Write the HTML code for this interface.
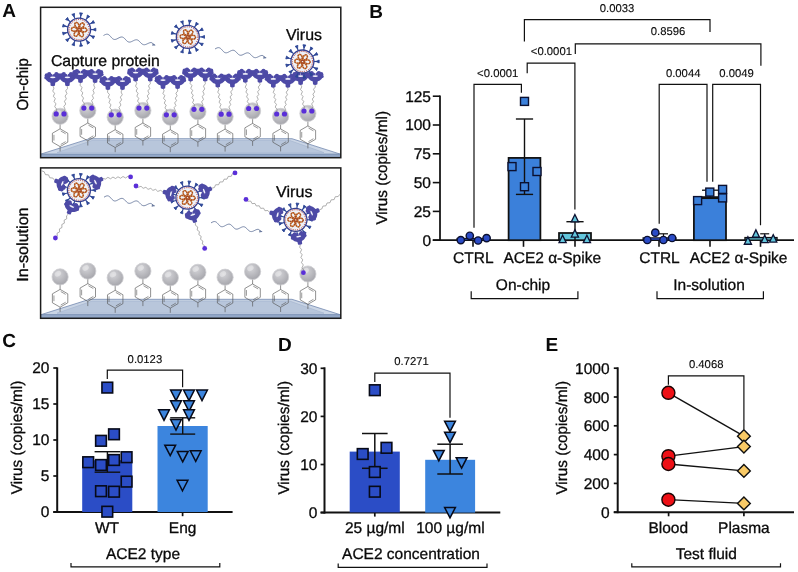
<!DOCTYPE html>
<html><head><meta charset="utf-8"><title>Figure</title>
<style>
html,body{margin:0;padding:0;background:#fff;}
body{width:798px;height:572px;overflow:hidden;}
svg{display:block;font-family:"Liberation Sans", Arial, Helvetica, sans-serif;text-rendering:geometricPrecision;}
</style></head><body>
<svg width="798" height="572" viewBox="0 0 798 572">
<rect width="798" height="572" fill="#ffffff"/>
<text x="2.30" y="16.70" font-size="19" text-anchor="start" fill="#0a0a0a" font-weight="bold">A</text>
<text x="369.30" y="18.00" font-size="19" text-anchor="start" fill="#0a0a0a" font-weight="bold">B</text>
<text x="2.20" y="347.30" font-size="19" text-anchor="start" fill="#0a0a0a" font-weight="bold">C</text>
<text x="278.10" y="351.30" font-size="19" text-anchor="start" fill="#0a0a0a" font-weight="bold">D</text>
<text x="545.60" y="351.30" font-size="19" text-anchor="start" fill="#0a0a0a" font-weight="bold">E</text>
<defs><g id="virus">
<line x1="1.38" y1="-11.42" x2="1.76" y2="-14.59" stroke="#2d4696" stroke-width="1.15"/>
<polygon points="1.64,-13.60 3.44,-16.41 0.56,-16.75" fill="#2d4696" stroke="#2d4696" stroke-width="0.9" stroke-linejoin="round"/>
<line x1="6.52" y1="-9.47" x2="8.34" y2="-12.10" stroke="#2d4696" stroke-width="1.15"/>
<polygon points="7.77,-11.28 10.67,-12.93 8.28,-14.57" fill="#2d4696" stroke="#2d4696" stroke-width="0.9" stroke-linejoin="round"/>
<line x1="10.18" y1="-5.35" x2="13.01" y2="-6.84" stroke="#2d4696" stroke-width="1.15"/>
<polygon points="12.13,-6.38 15.46,-6.49 14.11,-9.06" fill="#2d4696" stroke="#2d4696" stroke-width="0.9" stroke-linejoin="round"/>
<line x1="11.50" y1="-0.01" x2="14.70" y2="-0.01" stroke="#2d4696" stroke-width="1.15"/>
<polygon points="13.70,-0.01 16.70,1.44 16.70,-1.46" fill="#2d4696" stroke="#2d4696" stroke-width="0.9" stroke-linejoin="round"/>
<line x1="10.19" y1="5.34" x2="13.02" y2="6.82" stroke="#2d4696" stroke-width="1.15"/>
<polygon points="12.14,6.36 14.12,9.03 15.47,6.46" fill="#2d4696" stroke="#2d4696" stroke-width="0.9" stroke-linejoin="round"/>
<line x1="6.54" y1="9.46" x2="8.36" y2="12.09" stroke="#2d4696" stroke-width="1.15"/>
<polygon points="7.79,11.27 8.31,14.56 10.69,12.91" fill="#2d4696" stroke="#2d4696" stroke-width="0.9" stroke-linejoin="round"/>
<line x1="1.40" y1="11.41" x2="1.78" y2="14.59" stroke="#2d4696" stroke-width="1.15"/>
<polygon points="1.66,13.60 0.59,16.75 3.47,16.40" fill="#2d4696" stroke="#2d4696" stroke-width="0.9" stroke-linejoin="round"/>
<line x1="-4.07" y1="10.76" x2="-5.20" y2="13.75" stroke="#2d4696" stroke-width="1.15"/>
<polygon points="-4.85,12.81 -7.27,15.11 -4.55,16.13" fill="#2d4696" stroke="#2d4696" stroke-width="0.9" stroke-linejoin="round"/>
<line x1="-8.60" y1="7.63" x2="-11.00" y2="9.76" stroke="#2d4696" stroke-width="1.15"/>
<polygon points="-10.25,9.09 -13.45,10.00 -11.53,12.17" fill="#2d4696" stroke="#2d4696" stroke-width="0.9" stroke-linejoin="round"/>
<line x1="-11.16" y1="2.76" x2="-14.27" y2="3.53" stroke="#2d4696" stroke-width="1.15"/>
<polygon points="-13.30,3.29 -16.56,2.60 -15.86,5.42" fill="#2d4696" stroke="#2d4696" stroke-width="0.9" stroke-linejoin="round"/>
<line x1="-11.17" y1="-2.74" x2="-14.28" y2="-3.51" stroke="#2d4696" stroke-width="1.15"/>
<polygon points="-13.30,-3.27 -15.87,-5.39 -16.56,-2.57" fill="#2d4696" stroke="#2d4696" stroke-width="0.9" stroke-linejoin="round"/>
<line x1="-8.61" y1="-7.62" x2="-11.01" y2="-9.74" stroke="#2d4696" stroke-width="1.15"/>
<polygon points="-10.26,-9.08 -11.55,-12.15 -13.47,-9.98" fill="#2d4696" stroke="#2d4696" stroke-width="0.9" stroke-linejoin="round"/>
<line x1="-4.09" y1="-10.75" x2="-5.22" y2="-13.74" stroke="#2d4696" stroke-width="1.15"/>
<polygon points="-4.87,-12.81 -4.58,-16.13 -7.29,-15.09" fill="#2d4696" stroke="#2d4696" stroke-width="0.9" stroke-linejoin="round"/>
<circle r="11.50" fill="#edf1f9" stroke="#363f8e" stroke-width="1.3"/>
<circle r="10.10" fill="none" stroke="#b6362c" stroke-width="1" stroke-dasharray="1 1.2"/>
<path d="M7.4 1.2 L7.7 0.7 L7.7 0.1 L7.4 -0.5 L7.0 -1.0 L6.3 -1.4 L5.5 -1.6 L4.6 -1.6 L3.7 -1.3 L2.8 -0.9 L2.0 -0.3 L1.2 0.5 L0.7 1.4 L0.3 2.4 L0.2 3.4 L0.2 4.4 L0.5 5.3 L0.9 6.0 L1.4 6.6 L2.0 6.9 L2.6 7.1 L3.2 7.0 L3.8 6.7 L4.1 6.2 L4.3 5.5 L4.3 4.8 L4.1 4.0 L3.7 3.2 L3.0 2.5 L2.2 2.0 L1.2 1.6 L0.2 1.3 L-0.9 1.3 L-1.9 1.5 L-2.9 1.8 L-3.7 2.4 L-4.3 3.0 L-4.8 3.8 L-5.0 4.5 L-5.0 5.2 L-4.8 5.8 L-4.4 6.3 L-3.9 6.6 L-3.3 6.7 L-2.6 6.5 L-2.0 6.1 L-1.4 5.6 L-1.0 4.8 L-0.7 3.9 L-0.6 2.9 L-0.7 1.9 L-1.0 0.8 L-1.6 -0.1 L-2.2 -0.9 L-3.0 -1.6 L-3.9 -2.0 L-4.8 -2.2 L-5.6 -2.3 L-6.4 -2.1 L-7.0 -1.7 L-7.4 -1.2 L-7.7 -0.7 L-7.7 -0.1 L-7.4 0.5 L-7.0 1.0 L-6.3 1.4 L-5.5 1.6 L-4.6 1.6 L-3.7 1.3 L-2.8 0.9 L-2.0 0.3 L-1.2 -0.5 L-0.7 -1.4 L-0.3 -2.4 L-0.2 -3.4 L-0.2 -4.4 L-0.5 -5.3 L-0.9 -6.0 L-1.4 -6.6 L-2.0 -6.9 L-2.6 -7.1 L-3.2 -7.0 L-3.8 -6.7 L-4.1 -6.2 L-4.3 -5.5 L-4.3 -4.8 L-4.1 -4.0 L-3.7 -3.2 L-3.0 -2.5 L-2.2 -2.0 L-1.2 -1.6 L-0.2 -1.3 L0.9 -1.3 L1.9 -1.5 L2.9 -1.8 L3.7 -2.4 L4.3 -3.0 L4.8 -3.8 L5.0 -4.5 L5.0 -5.2 L4.8 -5.8 L4.4 -6.3 L3.9 -6.6 L3.3 -6.7 L2.6 -6.5 L2.0 -6.1 L1.4 -5.6 L1.0 -4.8 L0.7 -3.9 L0.6 -2.9 L0.7 -1.9 L1.0 -0.8 L1.6 0.1 L2.2 0.9 L3.0 1.6 L3.9 2.0 L4.8 2.2 L5.6 2.3 L6.4 2.1 L7.0 1.7 L7.4 1.2Z" fill="none" stroke="#d68a3c" stroke-width="1.35" stroke-linejoin="round"/>
<path d="M7.4 1.2 L7.7 0.7 L7.7 0.1 L7.4 -0.5 L7.0 -1.0 L6.3 -1.4 L5.5 -1.6 L4.6 -1.6 L3.7 -1.3 L2.8 -0.9 L2.0 -0.3 L1.2 0.5 L0.7 1.4 L0.3 2.4 L0.2 3.4 L0.2 4.4 L0.5 5.3 L0.9 6.0 L1.4 6.6 L2.0 6.9 L2.6 7.1 L3.2 7.0 L3.8 6.7 L4.1 6.2 L4.3 5.5 L4.3 4.8 L4.1 4.0 L3.7 3.2 L3.0 2.5 L2.2 2.0 L1.2 1.6 L0.2 1.3 L-0.9 1.3 L-1.9 1.5 L-2.9 1.8 L-3.7 2.4 L-4.3 3.0 L-4.8 3.8 L-5.0 4.5 L-5.0 5.2 L-4.8 5.8 L-4.4 6.3 L-3.9 6.6 L-3.3 6.7 L-2.6 6.5 L-2.0 6.1 L-1.4 5.6 L-1.0 4.8 L-0.7 3.9 L-0.6 2.9 L-0.7 1.9 L-1.0 0.8 L-1.6 -0.1 L-2.2 -0.9 L-3.0 -1.6 L-3.9 -2.0 L-4.8 -2.2 L-5.6 -2.3 L-6.4 -2.1 L-7.0 -1.7 L-7.4 -1.2 L-7.7 -0.7 L-7.7 -0.1 L-7.4 0.5 L-7.0 1.0 L-6.3 1.4 L-5.5 1.6 L-4.6 1.6 L-3.7 1.3 L-2.8 0.9 L-2.0 0.3 L-1.2 -0.5 L-0.7 -1.4 L-0.3 -2.4 L-0.2 -3.4 L-0.2 -4.4 L-0.5 -5.3 L-0.9 -6.0 L-1.4 -6.6 L-2.0 -6.9 L-2.6 -7.1 L-3.2 -7.0 L-3.8 -6.7 L-4.1 -6.2 L-4.3 -5.5 L-4.3 -4.8 L-4.1 -4.0 L-3.7 -3.2 L-3.0 -2.5 L-2.2 -2.0 L-1.2 -1.6 L-0.2 -1.3 L0.9 -1.3 L1.9 -1.5 L2.9 -1.8 L3.7 -2.4 L4.3 -3.0 L4.8 -3.8 L5.0 -4.5 L5.0 -5.2 L4.8 -5.8 L4.4 -6.3 L3.9 -6.6 L3.3 -6.7 L2.6 -6.5 L2.0 -6.1 L1.4 -5.6 L1.0 -4.8 L0.7 -3.9 L0.6 -2.9 L0.7 -1.9 L1.0 -0.8 L1.6 0.1 L2.2 0.9 L3.0 1.6 L3.9 2.0 L4.8 2.2 L5.6 2.3 L6.4 2.1 L7.0 1.7 L7.4 1.2Z" fill="none" stroke="#a4482a" stroke-width="1.35" stroke-linejoin="round" stroke-dasharray="1.3 1.1"/>
</g>
<radialGradient id="beadg" cx="0.4" cy="0.32" r="0.75">
<stop offset="0" stop-color="#d4d4d8"/><stop offset="0.55" stop-color="#b9b9be"/><stop offset="1" stop-color="#a2a2a8"/>
</radialGradient>
</defs>
<g>
<rect x="40.60" y="7.30" width="300.20" height="150.40" fill="#ffffff" stroke="none" stroke-width="0"/>
<polygon points="89.50,138.70 292.00,138.70 340.50,154.20 40.60,154.20" fill="#cad5e5" stroke="#7389b0" stroke-width="0.8" stroke-linejoin="round"/>
<polygon points="92.00,140.50 289.80,140.50 324.00,152.60 57.00,152.60" fill="#b8c6db" stroke="#a3b4cf" stroke-width="0.6"/>
<rect x="40.60" y="154.20" width="300.00" height="3.30" fill="#93a8c8" stroke="#6f86ae" stroke-width="0.6"/>
<line x1="60.10" y1="123.30" x2="60.10" y2="128.80" stroke="#555" stroke-width="0.65"/>
<line x1="60.10" y1="146.60" x2="60.10" y2="151.30" stroke="#555" stroke-width="0.65"/>
<polygon points="60.10,128.80 52.39,133.25 52.39,142.15 60.10,146.60 67.81,142.15 67.81,133.25" fill="none" stroke="#555" stroke-width="0.65"/>
<line x1="53.93" y1="134.85" x2="53.93" y2="140.55" stroke="#555" stroke-width="0.6"/>
<line x1="60.72" y1="144.46" x2="65.65" y2="141.62" stroke="#555" stroke-width="0.6"/>
<line x1="65.65" y1="133.78" x2="60.72" y2="130.94" stroke="#555" stroke-width="0.6"/>
<circle cx="60.10" cy="116.30" r="8.1" fill="url(#beadg)" stroke="#cfcfd3" stroke-width="0.8"/>
<ellipse cx="57.90" cy="113.10" rx="3.4" ry="2.6" fill="#ffffff" opacity="0.35" transform="rotate(-30 57.90 113.10)"/>
<polyline points="56.20,111.80 56.65,109.09 54.73,106.68 55.97,103.87 54.05,101.46 55.29,98.65 53.37,96.24 54.61,93.43 52.69,91.02 53.93,88.21 52.80,85.70" fill="none" stroke="#858585" stroke-width="0.65" stroke-linejoin="round"/>
<polyline points="64.00,111.80 65.10,109.28 63.83,106.49 65.72,104.06 64.45,101.27 66.34,98.84 65.07,96.05 66.96,93.62 65.69,90.83 67.58,88.40 67.10,85.70" fill="none" stroke="#858585" stroke-width="0.65" stroke-linejoin="round"/>
<circle cx="56.20" cy="113.90" r="2.60" fill="#5a2fd8" stroke="none" stroke-width="0"/>
<circle cx="64.00" cy="113.90" r="2.60" fill="#5a2fd8" stroke="none" stroke-width="0"/>
<line x1="87.80" y1="117.50" x2="87.80" y2="123.00" stroke="#555" stroke-width="0.65"/>
<line x1="87.80" y1="140.80" x2="87.80" y2="145.50" stroke="#555" stroke-width="0.65"/>
<polygon points="87.80,123.00 80.09,127.45 80.09,136.35 87.80,140.80 95.51,136.35 95.51,127.45" fill="none" stroke="#555" stroke-width="0.65"/>
<line x1="81.63" y1="129.05" x2="81.63" y2="134.75" stroke="#555" stroke-width="0.6"/>
<line x1="88.42" y1="138.66" x2="93.35" y2="135.82" stroke="#555" stroke-width="0.6"/>
<line x1="93.35" y1="127.98" x2="88.42" y2="125.14" stroke="#555" stroke-width="0.6"/>
<circle cx="87.80" cy="110.50" r="8.1" fill="url(#beadg)" stroke="#cfcfd3" stroke-width="0.8"/>
<ellipse cx="85.60" cy="107.30" rx="3.4" ry="2.6" fill="#ffffff" opacity="0.35" transform="rotate(-30 85.60 107.30)"/>
<polyline points="83.90,106.00 84.31,103.27 82.35,100.89 83.56,98.05 81.60,95.67 82.80,92.83 80.84,90.45 82.05,87.61 80.09,85.23 80.50,82.50" fill="none" stroke="#858585" stroke-width="0.65" stroke-linejoin="round"/>
<polyline points="91.70,106.00 92.84,103.49 91.60,100.67 93.53,98.27 92.28,95.45 94.22,93.05 92.97,90.23 94.90,87.83 93.66,85.01 94.80,82.50" fill="none" stroke="#858585" stroke-width="0.65" stroke-linejoin="round"/>
<circle cx="83.90" cy="108.10" r="2.60" fill="#5a2fd8" stroke="none" stroke-width="0"/>
<circle cx="91.70" cy="108.10" r="2.60" fill="#5a2fd8" stroke="none" stroke-width="0"/>
<line x1="115.20" y1="124.20" x2="115.20" y2="129.70" stroke="#555" stroke-width="0.65"/>
<line x1="115.20" y1="147.50" x2="115.20" y2="152.20" stroke="#555" stroke-width="0.65"/>
<polygon points="115.20,129.70 107.49,134.15 107.49,143.05 115.20,147.50 122.91,143.05 122.91,134.15" fill="none" stroke="#555" stroke-width="0.65"/>
<line x1="109.03" y1="135.75" x2="109.03" y2="141.45" stroke="#555" stroke-width="0.6"/>
<line x1="115.82" y1="145.36" x2="120.75" y2="142.52" stroke="#555" stroke-width="0.6"/>
<line x1="120.75" y1="134.68" x2="115.82" y2="131.84" stroke="#555" stroke-width="0.6"/>
<circle cx="115.20" cy="117.20" r="8.1" fill="url(#beadg)" stroke="#cfcfd3" stroke-width="0.8"/>
<ellipse cx="113.00" cy="114.00" rx="3.4" ry="2.6" fill="#ffffff" opacity="0.35" transform="rotate(-30 113.00 114.00)"/>
<polyline points="111.30,112.70 111.71,110.01 109.75,107.66 110.96,104.85 109.00,102.50 110.20,99.70 108.24,97.35 109.45,94.54 107.49,92.19 107.90,89.50" fill="none" stroke="#858585" stroke-width="0.65" stroke-linejoin="round"/>
<polyline points="119.10,112.70 120.24,110.23 119.00,107.44 120.93,105.07 119.68,102.28 121.62,99.92 120.37,97.13 122.30,94.76 121.06,91.97 122.20,89.50" fill="none" stroke="#858585" stroke-width="0.65" stroke-linejoin="round"/>
<circle cx="111.30" cy="114.80" r="2.60" fill="#5a2fd8" stroke="none" stroke-width="0"/>
<circle cx="119.10" cy="114.80" r="2.60" fill="#5a2fd8" stroke="none" stroke-width="0"/>
<line x1="142.90" y1="117.50" x2="142.90" y2="123.00" stroke="#555" stroke-width="0.65"/>
<line x1="142.90" y1="140.80" x2="142.90" y2="145.50" stroke="#555" stroke-width="0.65"/>
<polygon points="142.90,123.00 135.19,127.45 135.19,136.35 142.90,140.80 150.61,136.35 150.61,127.45" fill="none" stroke="#555" stroke-width="0.65"/>
<line x1="136.73" y1="129.05" x2="136.73" y2="134.75" stroke="#555" stroke-width="0.6"/>
<line x1="143.52" y1="138.66" x2="148.45" y2="135.82" stroke="#555" stroke-width="0.6"/>
<line x1="148.45" y1="127.98" x2="143.52" y2="125.14" stroke="#555" stroke-width="0.6"/>
<circle cx="142.90" cy="110.50" r="8.1" fill="url(#beadg)" stroke="#cfcfd3" stroke-width="0.8"/>
<ellipse cx="140.70" cy="107.30" rx="3.4" ry="2.6" fill="#ffffff" opacity="0.35" transform="rotate(-30 140.70 107.30)"/>
<polyline points="139.00,106.00 139.45,103.39 137.53,101.11 138.77,98.39 136.85,96.11 138.09,93.39 136.17,91.11 137.41,88.39 135.49,86.11 136.73,83.39 135.60,81.00" fill="none" stroke="#858585" stroke-width="0.65" stroke-linejoin="round"/>
<polyline points="146.80,106.00 147.90,103.60 146.63,100.90 148.52,98.60 147.25,95.90 149.14,93.60 147.87,90.90 149.76,88.60 148.49,85.90 150.38,83.60 149.90,81.00" fill="none" stroke="#858585" stroke-width="0.65" stroke-linejoin="round"/>
<circle cx="139.00" cy="108.10" r="2.60" fill="#5a2fd8" stroke="none" stroke-width="0"/>
<circle cx="146.80" cy="108.10" r="2.60" fill="#5a2fd8" stroke="none" stroke-width="0"/>
<line x1="170.30" y1="124.20" x2="170.30" y2="129.70" stroke="#555" stroke-width="0.65"/>
<line x1="170.30" y1="147.50" x2="170.30" y2="152.20" stroke="#555" stroke-width="0.65"/>
<polygon points="170.30,129.70 162.59,134.15 162.59,143.05 170.30,147.50 178.01,143.05 178.01,134.15" fill="none" stroke="#555" stroke-width="0.65"/>
<line x1="164.13" y1="135.75" x2="164.13" y2="141.45" stroke="#555" stroke-width="0.6"/>
<line x1="170.92" y1="145.36" x2="175.85" y2="142.52" stroke="#555" stroke-width="0.6"/>
<line x1="175.85" y1="134.68" x2="170.92" y2="131.84" stroke="#555" stroke-width="0.6"/>
<circle cx="170.30" cy="117.20" r="8.1" fill="url(#beadg)" stroke="#cfcfd3" stroke-width="0.8"/>
<ellipse cx="168.10" cy="114.00" rx="3.4" ry="2.6" fill="#ffffff" opacity="0.35" transform="rotate(-30 168.10 114.00)"/>
<polyline points="166.40,112.70 166.85,110.17 164.93,107.97 166.17,105.33 164.25,103.13 165.49,100.49 163.57,98.29 164.81,95.65 162.89,93.45 164.13,90.81 163.00,88.50" fill="none" stroke="#858585" stroke-width="0.65" stroke-linejoin="round"/>
<polyline points="174.20,112.70 175.30,110.38 174.03,107.76 175.92,105.54 174.65,102.92 176.54,100.70 175.27,98.08 177.16,95.86 175.89,93.24 177.78,91.02 177.30,88.50" fill="none" stroke="#858585" stroke-width="0.65" stroke-linejoin="round"/>
<circle cx="166.40" cy="114.80" r="2.60" fill="#5a2fd8" stroke="none" stroke-width="0"/>
<circle cx="174.20" cy="114.80" r="2.60" fill="#5a2fd8" stroke="none" stroke-width="0"/>
<line x1="197.90" y1="118.70" x2="197.90" y2="124.20" stroke="#555" stroke-width="0.65"/>
<line x1="197.90" y1="142.00" x2="197.90" y2="146.70" stroke="#555" stroke-width="0.65"/>
<polygon points="197.90,124.20 190.19,128.65 190.19,137.55 197.90,142.00 205.61,137.55 205.61,128.65" fill="none" stroke="#555" stroke-width="0.65"/>
<line x1="191.73" y1="130.25" x2="191.73" y2="135.95" stroke="#555" stroke-width="0.6"/>
<line x1="198.52" y1="139.86" x2="203.45" y2="137.02" stroke="#555" stroke-width="0.6"/>
<line x1="203.45" y1="129.18" x2="198.52" y2="126.34" stroke="#555" stroke-width="0.6"/>
<circle cx="197.90" cy="111.70" r="8.1" fill="url(#beadg)" stroke="#cfcfd3" stroke-width="0.8"/>
<ellipse cx="195.70" cy="108.50" rx="3.4" ry="2.6" fill="#ffffff" opacity="0.35" transform="rotate(-30 195.70 108.50)"/>
<polyline points="194.00,107.20 194.48,104.72 192.59,102.54 193.87,99.95 191.97,97.78 193.25,95.19 191.35,93.01 192.63,90.42 190.73,88.25 192.01,85.66 190.12,83.48 190.60,81.00" fill="none" stroke="#858585" stroke-width="0.65" stroke-linejoin="round"/>
<polyline points="201.80,107.20 202.90,104.67 201.63,101.87 203.52,99.43 202.25,96.63 204.14,94.19 202.87,91.39 204.76,88.95 203.49,86.15 205.38,83.71 204.90,81.00" fill="none" stroke="#858585" stroke-width="0.65" stroke-linejoin="round"/>
<circle cx="194.00" cy="109.30" r="2.60" fill="#5a2fd8" stroke="none" stroke-width="0"/>
<circle cx="201.80" cy="109.30" r="2.60" fill="#5a2fd8" stroke="none" stroke-width="0"/>
<line x1="225.10" y1="123.60" x2="225.10" y2="129.10" stroke="#555" stroke-width="0.65"/>
<line x1="225.10" y1="146.90" x2="225.10" y2="151.60" stroke="#555" stroke-width="0.65"/>
<polygon points="225.10,129.10 217.39,133.55 217.39,142.45 225.10,146.90 232.81,142.45 232.81,133.55" fill="none" stroke="#555" stroke-width="0.65"/>
<line x1="218.93" y1="135.15" x2="218.93" y2="140.85" stroke="#555" stroke-width="0.6"/>
<line x1="225.72" y1="144.76" x2="230.65" y2="141.92" stroke="#555" stroke-width="0.6"/>
<line x1="230.65" y1="134.08" x2="225.72" y2="131.24" stroke="#555" stroke-width="0.6"/>
<circle cx="225.10" cy="116.60" r="8.1" fill="url(#beadg)" stroke="#cfcfd3" stroke-width="0.8"/>
<ellipse cx="222.90" cy="113.40" rx="3.4" ry="2.6" fill="#ffffff" opacity="0.35" transform="rotate(-30 222.90 113.40)"/>
<polyline points="221.20,112.10 221.65,109.48 219.73,107.19 220.97,104.46 219.05,102.17 220.29,99.44 218.37,97.15 219.61,94.42 217.69,92.13 218.93,89.40 217.80,87.00" fill="none" stroke="#858585" stroke-width="0.65" stroke-linejoin="round"/>
<polyline points="229.00,112.10 230.10,109.69 228.83,106.98 230.72,104.67 229.45,101.96 231.34,99.65 230.07,96.94 231.96,94.63 230.69,91.92 232.58,89.61 232.10,87.00" fill="none" stroke="#858585" stroke-width="0.65" stroke-linejoin="round"/>
<circle cx="221.20" cy="114.20" r="2.60" fill="#5a2fd8" stroke="none" stroke-width="0"/>
<circle cx="229.00" cy="114.20" r="2.60" fill="#5a2fd8" stroke="none" stroke-width="0"/>
<line x1="252.60" y1="117.90" x2="252.60" y2="123.40" stroke="#555" stroke-width="0.65"/>
<line x1="252.60" y1="141.20" x2="252.60" y2="145.90" stroke="#555" stroke-width="0.65"/>
<polygon points="252.60,123.40 244.89,127.85 244.89,136.75 252.60,141.20 260.31,136.75 260.31,127.85" fill="none" stroke="#555" stroke-width="0.65"/>
<line x1="246.43" y1="129.45" x2="246.43" y2="135.15" stroke="#555" stroke-width="0.6"/>
<line x1="253.22" y1="139.06" x2="258.15" y2="136.22" stroke="#555" stroke-width="0.6"/>
<line x1="258.15" y1="128.38" x2="253.22" y2="125.54" stroke="#555" stroke-width="0.6"/>
<circle cx="252.60" cy="110.90" r="8.1" fill="url(#beadg)" stroke="#cfcfd3" stroke-width="0.8"/>
<ellipse cx="250.40" cy="107.70" rx="3.4" ry="2.6" fill="#ffffff" opacity="0.35" transform="rotate(-30 250.40 107.70)"/>
<polyline points="248.70,106.40 249.15,103.88 247.23,101.69 248.47,99.06 246.55,96.87 247.79,94.24 245.87,92.05 247.11,89.42 245.19,87.23 246.43,84.60 245.30,82.30" fill="none" stroke="#858585" stroke-width="0.65" stroke-linejoin="round"/>
<polyline points="256.50,106.40 257.60,104.09 256.33,101.48 258.22,99.27 256.95,96.66 258.84,94.45 257.57,91.84 259.46,89.63 258.19,87.02 260.08,84.81 259.60,82.30" fill="none" stroke="#858585" stroke-width="0.65" stroke-linejoin="round"/>
<circle cx="248.70" cy="108.50" r="2.60" fill="#5a2fd8" stroke="none" stroke-width="0"/>
<circle cx="256.50" cy="108.50" r="2.60" fill="#5a2fd8" stroke="none" stroke-width="0"/>
<line x1="280.60" y1="123.40" x2="280.60" y2="128.90" stroke="#555" stroke-width="0.65"/>
<line x1="280.60" y1="146.70" x2="280.60" y2="151.40" stroke="#555" stroke-width="0.65"/>
<polygon points="280.60,128.90 272.89,133.35 272.89,142.25 280.60,146.70 288.31,142.25 288.31,133.35" fill="none" stroke="#555" stroke-width="0.65"/>
<line x1="274.43" y1="134.95" x2="274.43" y2="140.65" stroke="#555" stroke-width="0.6"/>
<line x1="281.22" y1="144.56" x2="286.15" y2="141.72" stroke="#555" stroke-width="0.6"/>
<line x1="286.15" y1="133.88" x2="281.22" y2="131.04" stroke="#555" stroke-width="0.6"/>
<circle cx="280.60" cy="116.40" r="8.1" fill="url(#beadg)" stroke="#cfcfd3" stroke-width="0.8"/>
<ellipse cx="278.40" cy="113.20" rx="3.4" ry="2.6" fill="#ffffff" opacity="0.35" transform="rotate(-30 278.40 113.20)"/>
<polyline points="276.70,111.90 277.15,109.33 275.23,107.09 276.47,104.41 274.55,102.17 275.79,99.49 273.87,97.25 275.11,94.57 273.19,92.33 274.43,89.65 273.30,87.30" fill="none" stroke="#858585" stroke-width="0.65" stroke-linejoin="round"/>
<polyline points="284.50,111.90 285.60,109.54 284.33,106.88 286.22,104.62 284.95,101.96 286.84,99.70 285.57,97.04 287.46,94.78 286.19,92.12 288.08,89.86 287.60,87.30" fill="none" stroke="#858585" stroke-width="0.65" stroke-linejoin="round"/>
<circle cx="276.70" cy="114.00" r="2.60" fill="#5a2fd8" stroke="none" stroke-width="0"/>
<circle cx="284.50" cy="114.00" r="2.60" fill="#5a2fd8" stroke="none" stroke-width="0"/>
<line x1="307.90" y1="120.40" x2="307.90" y2="125.90" stroke="#555" stroke-width="0.65"/>
<line x1="307.90" y1="143.70" x2="307.90" y2="148.40" stroke="#555" stroke-width="0.65"/>
<polygon points="307.90,125.90 300.19,130.35 300.19,139.25 307.90,143.70 315.61,139.25 315.61,130.35" fill="none" stroke="#555" stroke-width="0.65"/>
<line x1="301.73" y1="131.95" x2="301.73" y2="137.65" stroke="#555" stroke-width="0.6"/>
<line x1="308.52" y1="141.56" x2="313.45" y2="138.72" stroke="#555" stroke-width="0.6"/>
<line x1="313.45" y1="130.88" x2="308.52" y2="128.04" stroke="#555" stroke-width="0.6"/>
<circle cx="307.90" cy="113.40" r="8.1" fill="url(#beadg)" stroke="#cfcfd3" stroke-width="0.8"/>
<ellipse cx="305.70" cy="110.20" rx="3.4" ry="2.6" fill="#ffffff" opacity="0.35" transform="rotate(-30 305.70 110.20)"/>
<polyline points="304.00,108.90 304.45,106.35 302.53,104.13 303.77,101.47 301.85,99.25 303.09,96.59 301.17,94.37 302.41,91.71 300.49,89.49 301.73,86.83 300.60,84.50" fill="none" stroke="#858585" stroke-width="0.65" stroke-linejoin="round"/>
<polyline points="311.80,108.90 312.90,106.56 311.63,103.92 313.52,101.68 312.25,99.04 314.14,96.80 312.87,94.16 314.76,91.92 313.49,89.28 315.38,87.04 314.90,84.50" fill="none" stroke="#858585" stroke-width="0.65" stroke-linejoin="round"/>
<circle cx="304.00" cy="111.00" r="2.60" fill="#5a2fd8" stroke="none" stroke-width="0"/>
<circle cx="311.80" cy="111.00" r="2.60" fill="#5a2fd8" stroke="none" stroke-width="0"/>
<g transform="translate(52.80 79.20) rotate(0.0) scale(1.0)" fill="#4d4aa6">
<path d="M -8 -3.2 C -8.2 0.6 -4.6 2.8 -2.4 3.5 L -2.2 6.3 C -1.2 7.1 1.2 7.1 2.2 6.3 L 2.4 3.5 C 4.6 2.8 8.2 0.6 8 -3.2 Z"/>
<circle cx="-5.9" cy="-3.6" r="2.3"/><circle cx="5.9" cy="-3.6" r="2.3"/>
<circle cx="-3.6" cy="-5.0" r="2.1"/><circle cx="3.6" cy="-5.0" r="2.1"/>
<circle cx="-1.6" cy="-4.0" r="1.5"/><circle cx="1.6" cy="-4.0" r="1.5"/>
<circle cx="-7.0" cy="-1.5" r="1.5"/><circle cx="7.0" cy="-1.5" r="1.5"/>
<ellipse cx="0" cy="-1.9" rx="2.7" ry="0.85" fill="#f4f4fb"/>
</g>
<g transform="translate(67.40 79.20) rotate(0.0) scale(1.0)" fill="#4d4aa6">
<path d="M -8 -3.2 C -8.2 0.6 -4.6 2.8 -2.4 3.5 L -2.2 6.3 C -1.2 7.1 1.2 7.1 2.2 6.3 L 2.4 3.5 C 4.6 2.8 8.2 0.6 8 -3.2 Z"/>
<circle cx="-5.9" cy="-3.6" r="2.3"/><circle cx="5.9" cy="-3.6" r="2.3"/>
<circle cx="-3.6" cy="-5.0" r="2.1"/><circle cx="3.6" cy="-5.0" r="2.1"/>
<circle cx="-1.6" cy="-4.0" r="1.5"/><circle cx="1.6" cy="-4.0" r="1.5"/>
<circle cx="-7.0" cy="-1.5" r="1.5"/><circle cx="7.0" cy="-1.5" r="1.5"/>
<ellipse cx="0" cy="-1.9" rx="2.7" ry="0.85" fill="#f4f4fb"/>
</g>
<g transform="translate(80.50 76.00) rotate(0.0) scale(1.0)" fill="#4d4aa6">
<path d="M -8 -3.2 C -8.2 0.6 -4.6 2.8 -2.4 3.5 L -2.2 6.3 C -1.2 7.1 1.2 7.1 2.2 6.3 L 2.4 3.5 C 4.6 2.8 8.2 0.6 8 -3.2 Z"/>
<circle cx="-5.9" cy="-3.6" r="2.3"/><circle cx="5.9" cy="-3.6" r="2.3"/>
<circle cx="-3.6" cy="-5.0" r="2.1"/><circle cx="3.6" cy="-5.0" r="2.1"/>
<circle cx="-1.6" cy="-4.0" r="1.5"/><circle cx="1.6" cy="-4.0" r="1.5"/>
<circle cx="-7.0" cy="-1.5" r="1.5"/><circle cx="7.0" cy="-1.5" r="1.5"/>
<ellipse cx="0" cy="-1.9" rx="2.7" ry="0.85" fill="#f4f4fb"/>
</g>
<g transform="translate(95.10 76.00) rotate(0.0) scale(1.0)" fill="#4d4aa6">
<path d="M -8 -3.2 C -8.2 0.6 -4.6 2.8 -2.4 3.5 L -2.2 6.3 C -1.2 7.1 1.2 7.1 2.2 6.3 L 2.4 3.5 C 4.6 2.8 8.2 0.6 8 -3.2 Z"/>
<circle cx="-5.9" cy="-3.6" r="2.3"/><circle cx="5.9" cy="-3.6" r="2.3"/>
<circle cx="-3.6" cy="-5.0" r="2.1"/><circle cx="3.6" cy="-5.0" r="2.1"/>
<circle cx="-1.6" cy="-4.0" r="1.5"/><circle cx="1.6" cy="-4.0" r="1.5"/>
<circle cx="-7.0" cy="-1.5" r="1.5"/><circle cx="7.0" cy="-1.5" r="1.5"/>
<ellipse cx="0" cy="-1.9" rx="2.7" ry="0.85" fill="#f4f4fb"/>
</g>
<g transform="translate(107.90 83.00) rotate(0.0) scale(1.0)" fill="#4d4aa6">
<path d="M -8 -3.2 C -8.2 0.6 -4.6 2.8 -2.4 3.5 L -2.2 6.3 C -1.2 7.1 1.2 7.1 2.2 6.3 L 2.4 3.5 C 4.6 2.8 8.2 0.6 8 -3.2 Z"/>
<circle cx="-5.9" cy="-3.6" r="2.3"/><circle cx="5.9" cy="-3.6" r="2.3"/>
<circle cx="-3.6" cy="-5.0" r="2.1"/><circle cx="3.6" cy="-5.0" r="2.1"/>
<circle cx="-1.6" cy="-4.0" r="1.5"/><circle cx="1.6" cy="-4.0" r="1.5"/>
<circle cx="-7.0" cy="-1.5" r="1.5"/><circle cx="7.0" cy="-1.5" r="1.5"/>
<ellipse cx="0" cy="-1.9" rx="2.7" ry="0.85" fill="#f4f4fb"/>
</g>
<g transform="translate(122.50 83.00) rotate(0.0) scale(1.0)" fill="#4d4aa6">
<path d="M -8 -3.2 C -8.2 0.6 -4.6 2.8 -2.4 3.5 L -2.2 6.3 C -1.2 7.1 1.2 7.1 2.2 6.3 L 2.4 3.5 C 4.6 2.8 8.2 0.6 8 -3.2 Z"/>
<circle cx="-5.9" cy="-3.6" r="2.3"/><circle cx="5.9" cy="-3.6" r="2.3"/>
<circle cx="-3.6" cy="-5.0" r="2.1"/><circle cx="3.6" cy="-5.0" r="2.1"/>
<circle cx="-1.6" cy="-4.0" r="1.5"/><circle cx="1.6" cy="-4.0" r="1.5"/>
<circle cx="-7.0" cy="-1.5" r="1.5"/><circle cx="7.0" cy="-1.5" r="1.5"/>
<ellipse cx="0" cy="-1.9" rx="2.7" ry="0.85" fill="#f4f4fb"/>
</g>
<g transform="translate(135.60 74.50) rotate(0.0) scale(1.0)" fill="#4d4aa6">
<path d="M -8 -3.2 C -8.2 0.6 -4.6 2.8 -2.4 3.5 L -2.2 6.3 C -1.2 7.1 1.2 7.1 2.2 6.3 L 2.4 3.5 C 4.6 2.8 8.2 0.6 8 -3.2 Z"/>
<circle cx="-5.9" cy="-3.6" r="2.3"/><circle cx="5.9" cy="-3.6" r="2.3"/>
<circle cx="-3.6" cy="-5.0" r="2.1"/><circle cx="3.6" cy="-5.0" r="2.1"/>
<circle cx="-1.6" cy="-4.0" r="1.5"/><circle cx="1.6" cy="-4.0" r="1.5"/>
<circle cx="-7.0" cy="-1.5" r="1.5"/><circle cx="7.0" cy="-1.5" r="1.5"/>
<ellipse cx="0" cy="-1.9" rx="2.7" ry="0.85" fill="#f4f4fb"/>
</g>
<g transform="translate(150.20 74.50) rotate(0.0) scale(1.0)" fill="#4d4aa6">
<path d="M -8 -3.2 C -8.2 0.6 -4.6 2.8 -2.4 3.5 L -2.2 6.3 C -1.2 7.1 1.2 7.1 2.2 6.3 L 2.4 3.5 C 4.6 2.8 8.2 0.6 8 -3.2 Z"/>
<circle cx="-5.9" cy="-3.6" r="2.3"/><circle cx="5.9" cy="-3.6" r="2.3"/>
<circle cx="-3.6" cy="-5.0" r="2.1"/><circle cx="3.6" cy="-5.0" r="2.1"/>
<circle cx="-1.6" cy="-4.0" r="1.5"/><circle cx="1.6" cy="-4.0" r="1.5"/>
<circle cx="-7.0" cy="-1.5" r="1.5"/><circle cx="7.0" cy="-1.5" r="1.5"/>
<ellipse cx="0" cy="-1.9" rx="2.7" ry="0.85" fill="#f4f4fb"/>
</g>
<g transform="translate(163.00 82.00) rotate(0.0) scale(1.0)" fill="#4d4aa6">
<path d="M -8 -3.2 C -8.2 0.6 -4.6 2.8 -2.4 3.5 L -2.2 6.3 C -1.2 7.1 1.2 7.1 2.2 6.3 L 2.4 3.5 C 4.6 2.8 8.2 0.6 8 -3.2 Z"/>
<circle cx="-5.9" cy="-3.6" r="2.3"/><circle cx="5.9" cy="-3.6" r="2.3"/>
<circle cx="-3.6" cy="-5.0" r="2.1"/><circle cx="3.6" cy="-5.0" r="2.1"/>
<circle cx="-1.6" cy="-4.0" r="1.5"/><circle cx="1.6" cy="-4.0" r="1.5"/>
<circle cx="-7.0" cy="-1.5" r="1.5"/><circle cx="7.0" cy="-1.5" r="1.5"/>
<ellipse cx="0" cy="-1.9" rx="2.7" ry="0.85" fill="#f4f4fb"/>
</g>
<g transform="translate(177.60 82.00) rotate(0.0) scale(1.0)" fill="#4d4aa6">
<path d="M -8 -3.2 C -8.2 0.6 -4.6 2.8 -2.4 3.5 L -2.2 6.3 C -1.2 7.1 1.2 7.1 2.2 6.3 L 2.4 3.5 C 4.6 2.8 8.2 0.6 8 -3.2 Z"/>
<circle cx="-5.9" cy="-3.6" r="2.3"/><circle cx="5.9" cy="-3.6" r="2.3"/>
<circle cx="-3.6" cy="-5.0" r="2.1"/><circle cx="3.6" cy="-5.0" r="2.1"/>
<circle cx="-1.6" cy="-4.0" r="1.5"/><circle cx="1.6" cy="-4.0" r="1.5"/>
<circle cx="-7.0" cy="-1.5" r="1.5"/><circle cx="7.0" cy="-1.5" r="1.5"/>
<ellipse cx="0" cy="-1.9" rx="2.7" ry="0.85" fill="#f4f4fb"/>
</g>
<g transform="translate(190.60 74.50) rotate(0.0) scale(1.0)" fill="#4d4aa6">
<path d="M -8 -3.2 C -8.2 0.6 -4.6 2.8 -2.4 3.5 L -2.2 6.3 C -1.2 7.1 1.2 7.1 2.2 6.3 L 2.4 3.5 C 4.6 2.8 8.2 0.6 8 -3.2 Z"/>
<circle cx="-5.9" cy="-3.6" r="2.3"/><circle cx="5.9" cy="-3.6" r="2.3"/>
<circle cx="-3.6" cy="-5.0" r="2.1"/><circle cx="3.6" cy="-5.0" r="2.1"/>
<circle cx="-1.6" cy="-4.0" r="1.5"/><circle cx="1.6" cy="-4.0" r="1.5"/>
<circle cx="-7.0" cy="-1.5" r="1.5"/><circle cx="7.0" cy="-1.5" r="1.5"/>
<ellipse cx="0" cy="-1.9" rx="2.7" ry="0.85" fill="#f4f4fb"/>
</g>
<g transform="translate(205.20 74.50) rotate(0.0) scale(1.0)" fill="#4d4aa6">
<path d="M -8 -3.2 C -8.2 0.6 -4.6 2.8 -2.4 3.5 L -2.2 6.3 C -1.2 7.1 1.2 7.1 2.2 6.3 L 2.4 3.5 C 4.6 2.8 8.2 0.6 8 -3.2 Z"/>
<circle cx="-5.9" cy="-3.6" r="2.3"/><circle cx="5.9" cy="-3.6" r="2.3"/>
<circle cx="-3.6" cy="-5.0" r="2.1"/><circle cx="3.6" cy="-5.0" r="2.1"/>
<circle cx="-1.6" cy="-4.0" r="1.5"/><circle cx="1.6" cy="-4.0" r="1.5"/>
<circle cx="-7.0" cy="-1.5" r="1.5"/><circle cx="7.0" cy="-1.5" r="1.5"/>
<ellipse cx="0" cy="-1.9" rx="2.7" ry="0.85" fill="#f4f4fb"/>
</g>
<g transform="translate(217.80 80.50) rotate(0.0) scale(1.0)" fill="#4d4aa6">
<path d="M -8 -3.2 C -8.2 0.6 -4.6 2.8 -2.4 3.5 L -2.2 6.3 C -1.2 7.1 1.2 7.1 2.2 6.3 L 2.4 3.5 C 4.6 2.8 8.2 0.6 8 -3.2 Z"/>
<circle cx="-5.9" cy="-3.6" r="2.3"/><circle cx="5.9" cy="-3.6" r="2.3"/>
<circle cx="-3.6" cy="-5.0" r="2.1"/><circle cx="3.6" cy="-5.0" r="2.1"/>
<circle cx="-1.6" cy="-4.0" r="1.5"/><circle cx="1.6" cy="-4.0" r="1.5"/>
<circle cx="-7.0" cy="-1.5" r="1.5"/><circle cx="7.0" cy="-1.5" r="1.5"/>
<ellipse cx="0" cy="-1.9" rx="2.7" ry="0.85" fill="#f4f4fb"/>
</g>
<g transform="translate(232.40 80.50) rotate(0.0) scale(1.0)" fill="#4d4aa6">
<path d="M -8 -3.2 C -8.2 0.6 -4.6 2.8 -2.4 3.5 L -2.2 6.3 C -1.2 7.1 1.2 7.1 2.2 6.3 L 2.4 3.5 C 4.6 2.8 8.2 0.6 8 -3.2 Z"/>
<circle cx="-5.9" cy="-3.6" r="2.3"/><circle cx="5.9" cy="-3.6" r="2.3"/>
<circle cx="-3.6" cy="-5.0" r="2.1"/><circle cx="3.6" cy="-5.0" r="2.1"/>
<circle cx="-1.6" cy="-4.0" r="1.5"/><circle cx="1.6" cy="-4.0" r="1.5"/>
<circle cx="-7.0" cy="-1.5" r="1.5"/><circle cx="7.0" cy="-1.5" r="1.5"/>
<ellipse cx="0" cy="-1.9" rx="2.7" ry="0.85" fill="#f4f4fb"/>
</g>
<g transform="translate(245.30 75.80) rotate(0.0) scale(1.0)" fill="#4d4aa6">
<path d="M -8 -3.2 C -8.2 0.6 -4.6 2.8 -2.4 3.5 L -2.2 6.3 C -1.2 7.1 1.2 7.1 2.2 6.3 L 2.4 3.5 C 4.6 2.8 8.2 0.6 8 -3.2 Z"/>
<circle cx="-5.9" cy="-3.6" r="2.3"/><circle cx="5.9" cy="-3.6" r="2.3"/>
<circle cx="-3.6" cy="-5.0" r="2.1"/><circle cx="3.6" cy="-5.0" r="2.1"/>
<circle cx="-1.6" cy="-4.0" r="1.5"/><circle cx="1.6" cy="-4.0" r="1.5"/>
<circle cx="-7.0" cy="-1.5" r="1.5"/><circle cx="7.0" cy="-1.5" r="1.5"/>
<ellipse cx="0" cy="-1.9" rx="2.7" ry="0.85" fill="#f4f4fb"/>
</g>
<g transform="translate(259.90 75.80) rotate(0.0) scale(1.0)" fill="#4d4aa6">
<path d="M -8 -3.2 C -8.2 0.6 -4.6 2.8 -2.4 3.5 L -2.2 6.3 C -1.2 7.1 1.2 7.1 2.2 6.3 L 2.4 3.5 C 4.6 2.8 8.2 0.6 8 -3.2 Z"/>
<circle cx="-5.9" cy="-3.6" r="2.3"/><circle cx="5.9" cy="-3.6" r="2.3"/>
<circle cx="-3.6" cy="-5.0" r="2.1"/><circle cx="3.6" cy="-5.0" r="2.1"/>
<circle cx="-1.6" cy="-4.0" r="1.5"/><circle cx="1.6" cy="-4.0" r="1.5"/>
<circle cx="-7.0" cy="-1.5" r="1.5"/><circle cx="7.0" cy="-1.5" r="1.5"/>
<ellipse cx="0" cy="-1.9" rx="2.7" ry="0.85" fill="#f4f4fb"/>
</g>
<g transform="translate(273.30 80.80) rotate(0.0) scale(1.0)" fill="#4d4aa6">
<path d="M -8 -3.2 C -8.2 0.6 -4.6 2.8 -2.4 3.5 L -2.2 6.3 C -1.2 7.1 1.2 7.1 2.2 6.3 L 2.4 3.5 C 4.6 2.8 8.2 0.6 8 -3.2 Z"/>
<circle cx="-5.9" cy="-3.6" r="2.3"/><circle cx="5.9" cy="-3.6" r="2.3"/>
<circle cx="-3.6" cy="-5.0" r="2.1"/><circle cx="3.6" cy="-5.0" r="2.1"/>
<circle cx="-1.6" cy="-4.0" r="1.5"/><circle cx="1.6" cy="-4.0" r="1.5"/>
<circle cx="-7.0" cy="-1.5" r="1.5"/><circle cx="7.0" cy="-1.5" r="1.5"/>
<ellipse cx="0" cy="-1.9" rx="2.7" ry="0.85" fill="#f4f4fb"/>
</g>
<g transform="translate(287.90 80.80) rotate(0.0) scale(1.0)" fill="#4d4aa6">
<path d="M -8 -3.2 C -8.2 0.6 -4.6 2.8 -2.4 3.5 L -2.2 6.3 C -1.2 7.1 1.2 7.1 2.2 6.3 L 2.4 3.5 C 4.6 2.8 8.2 0.6 8 -3.2 Z"/>
<circle cx="-5.9" cy="-3.6" r="2.3"/><circle cx="5.9" cy="-3.6" r="2.3"/>
<circle cx="-3.6" cy="-5.0" r="2.1"/><circle cx="3.6" cy="-5.0" r="2.1"/>
<circle cx="-1.6" cy="-4.0" r="1.5"/><circle cx="1.6" cy="-4.0" r="1.5"/>
<circle cx="-7.0" cy="-1.5" r="1.5"/><circle cx="7.0" cy="-1.5" r="1.5"/>
<ellipse cx="0" cy="-1.9" rx="2.7" ry="0.85" fill="#f4f4fb"/>
</g>
<g transform="translate(300.60 78.00) rotate(0.0) scale(1.0)" fill="#4d4aa6">
<path d="M -8 -3.2 C -8.2 0.6 -4.6 2.8 -2.4 3.5 L -2.2 6.3 C -1.2 7.1 1.2 7.1 2.2 6.3 L 2.4 3.5 C 4.6 2.8 8.2 0.6 8 -3.2 Z"/>
<circle cx="-5.9" cy="-3.6" r="2.3"/><circle cx="5.9" cy="-3.6" r="2.3"/>
<circle cx="-3.6" cy="-5.0" r="2.1"/><circle cx="3.6" cy="-5.0" r="2.1"/>
<circle cx="-1.6" cy="-4.0" r="1.5"/><circle cx="1.6" cy="-4.0" r="1.5"/>
<circle cx="-7.0" cy="-1.5" r="1.5"/><circle cx="7.0" cy="-1.5" r="1.5"/>
<ellipse cx="0" cy="-1.9" rx="2.7" ry="0.85" fill="#f4f4fb"/>
</g>
<g transform="translate(315.20 78.00) rotate(0.0) scale(1.0)" fill="#4d4aa6">
<path d="M -8 -3.2 C -8.2 0.6 -4.6 2.8 -2.4 3.5 L -2.2 6.3 C -1.2 7.1 1.2 7.1 2.2 6.3 L 2.4 3.5 C 4.6 2.8 8.2 0.6 8 -3.2 Z"/>
<circle cx="-5.9" cy="-3.6" r="2.3"/><circle cx="5.9" cy="-3.6" r="2.3"/>
<circle cx="-3.6" cy="-5.0" r="2.1"/><circle cx="3.6" cy="-5.0" r="2.1"/>
<circle cx="-1.6" cy="-4.0" r="1.5"/><circle cx="1.6" cy="-4.0" r="1.5"/>
<circle cx="-7.0" cy="-1.5" r="1.5"/><circle cx="7.0" cy="-1.5" r="1.5"/>
<ellipse cx="0" cy="-1.9" rx="2.7" ry="0.85" fill="#f4f4fb"/>
</g>
<rect x="40.6" y="7.30" width="300.2" height="150.4" fill="none" stroke="#1c1c1c" stroke-width="1.5"/>
</g>
<use href="#virus" x="79.10" y="29.60"/>
<use href="#virus" x="187.80" y="36.90"/>
<path d="M103.50 35.50 L104.49 34.96 L105.46 34.51 L106.40 34.24 L107.29 34.20 L108.14 34.42 L108.94 34.88 L109.70 35.56 L110.44 36.37 L111.17 37.23 L111.91 38.04 L112.67 38.73 L113.47 39.21 L114.31 39.46 L115.20 39.45 L116.13 39.21 L117.09 38.80 L118.07 38.29 L119.06 37.77 L120.03 37.33 L120.97 37.05 L121.86 36.98 L122.72 37.17 L123.53 37.59 L124.30 38.21 L125.05 38.98 L125.78 39.81 L126.52 40.61 L127.28 41.29 L128.08 41.79 L128.91 42.07 L129.80 42.10 L130.72 41.91 L131.67 41.54 L132.65 41.07 L133.63 40.58 L134.59 40.15 L135.53 39.86 L136.44 39.78 L137.30 39.92 L138.12 40.30 L138.90 40.88 L139.65 41.61 L140.39 42.40 L141.14 43.18 L141.90 43.86 L142.69 44.37 L143.52 44.68 L144.40 44.75 L145.31 44.60 L146.26 44.28 L147.23 43.84 L148.20 43.38 L149.16 42.96 L150.10 42.67 L151.01 42.57 L151.86 42.76 L152.62 43.45 L153.38 44.15 L154.17 44.70 L155.00 45.00" fill="none" stroke="#6a7a9e" stroke-width="0.9"/>
<polygon points="155.79,45.15 152.21,45.81 152.68,43.25" fill="#6a7a9e"/>
<path d="M215.00 49.00 L215.97 48.44 L216.93 47.98 L217.85 47.70 L218.73 47.65 L219.57 47.85 L220.37 48.31 L221.13 48.97 L221.87 49.77 L222.60 50.62 L223.33 51.43 L224.09 52.10 L224.89 52.58 L225.72 52.81 L226.60 52.79 L227.52 52.54 L228.47 52.12 L229.43 51.59 L230.40 51.06 L231.35 50.61 L232.28 50.31 L233.17 50.24 L234.01 50.40 L234.82 50.82 L235.59 51.43 L236.33 52.19 L237.07 53.01 L237.81 53.79 L238.56 54.47 L239.36 54.96 L240.19 55.22 L241.06 55.24 L241.97 55.04 L242.91 54.66 L243.87 54.18 L244.83 53.67 L245.78 53.23 L246.71 52.93 L247.60 52.83 L248.45 52.96 L249.27 53.33 L250.04 53.90 L250.79 54.61 L251.53 55.40 L252.28 56.17 L253.04 56.84 L253.83 57.34 L254.65 57.63 L255.52 57.69 L256.42 57.53 L257.35 57.20 L258.30 56.75 L259.26 56.27 L260.21 55.84 L261.14 55.54 L262.03 55.42 L262.88 55.61 L263.64 56.28 L264.39 56.97 L265.17 57.51 L266.00 57.80" fill="none" stroke="#6a7a9e" stroke-width="0.9"/>
<polygon points="266.79,57.94 263.22,58.64 263.66,56.08" fill="#6a7a9e"/>
<use href="#virus" x="302.40" y="61.50"/>
<text x="50.90" y="65.90" font-size="15.6" text-anchor="start" fill="#0a0a0a" stroke="#0a0a0a" stroke-width="0.3" textLength="108.9" lengthAdjust="spacingAndGlyphs">Capture protein</text>
<text x="304.00" y="40.20" font-size="15.6" text-anchor="middle" fill="#0a0a0a" stroke="#0a0a0a" stroke-width="0.3" textLength="36" lengthAdjust="spacingAndGlyphs">Virus</text>
<text x="27.90" y="84.40" font-size="16" text-anchor="middle" fill="#0a0a0a" stroke="#0a0a0a" stroke-width="0.3" transform="rotate(-90 27.90 84.40)" textLength="52.3" lengthAdjust="spacingAndGlyphs">On-chip</text>
<g>
<rect x="40.60" y="167.90" width="300.20" height="150.40" fill="#ffffff" stroke="none" stroke-width="0"/>
<polygon points="89.50,299.30 292.00,299.30 340.50,314.80 40.60,314.80" fill="#cad5e5" stroke="#7389b0" stroke-width="0.8" stroke-linejoin="round"/>
<polygon points="92.00,301.10 289.80,301.10 324.00,313.20 57.00,313.20" fill="#b8c6db" stroke="#a3b4cf" stroke-width="0.6"/>
<rect x="40.60" y="314.80" width="300.00" height="3.30" fill="#93a8c8" stroke="#6f86ae" stroke-width="0.6"/>
<line x1="60.10" y1="283.90" x2="60.10" y2="289.40" stroke="#555" stroke-width="0.65"/>
<line x1="60.10" y1="307.20" x2="60.10" y2="311.90" stroke="#555" stroke-width="0.65"/>
<polygon points="60.10,289.40 52.39,293.85 52.39,302.75 60.10,307.20 67.81,302.75 67.81,293.85" fill="none" stroke="#555" stroke-width="0.65"/>
<line x1="53.93" y1="295.45" x2="53.93" y2="301.15" stroke="#555" stroke-width="0.6"/>
<line x1="60.72" y1="305.06" x2="65.65" y2="302.22" stroke="#555" stroke-width="0.6"/>
<line x1="65.65" y1="294.38" x2="60.72" y2="291.54" stroke="#555" stroke-width="0.6"/>
<circle cx="60.10" cy="276.90" r="8.1" fill="url(#beadg)" stroke="#cfcfd3" stroke-width="0.8"/>
<ellipse cx="57.90" cy="273.70" rx="3.4" ry="2.6" fill="#ffffff" opacity="0.35" transform="rotate(-30 57.90 273.70)"/>
<line x1="87.80" y1="278.10" x2="87.80" y2="283.60" stroke="#555" stroke-width="0.65"/>
<line x1="87.80" y1="301.40" x2="87.80" y2="306.10" stroke="#555" stroke-width="0.65"/>
<polygon points="87.80,283.60 80.09,288.05 80.09,296.95 87.80,301.40 95.51,296.95 95.51,288.05" fill="none" stroke="#555" stroke-width="0.65"/>
<line x1="81.63" y1="289.65" x2="81.63" y2="295.35" stroke="#555" stroke-width="0.6"/>
<line x1="88.42" y1="299.26" x2="93.35" y2="296.42" stroke="#555" stroke-width="0.6"/>
<line x1="93.35" y1="288.58" x2="88.42" y2="285.74" stroke="#555" stroke-width="0.6"/>
<circle cx="87.80" cy="271.10" r="8.1" fill="url(#beadg)" stroke="#cfcfd3" stroke-width="0.8"/>
<ellipse cx="85.60" cy="267.90" rx="3.4" ry="2.6" fill="#ffffff" opacity="0.35" transform="rotate(-30 85.60 267.90)"/>
<line x1="115.20" y1="284.80" x2="115.20" y2="290.30" stroke="#555" stroke-width="0.65"/>
<line x1="115.20" y1="308.10" x2="115.20" y2="312.80" stroke="#555" stroke-width="0.65"/>
<polygon points="115.20,290.30 107.49,294.75 107.49,303.65 115.20,308.10 122.91,303.65 122.91,294.75" fill="none" stroke="#555" stroke-width="0.65"/>
<line x1="109.03" y1="296.35" x2="109.03" y2="302.05" stroke="#555" stroke-width="0.6"/>
<line x1="115.82" y1="305.96" x2="120.75" y2="303.12" stroke="#555" stroke-width="0.6"/>
<line x1="120.75" y1="295.28" x2="115.82" y2="292.44" stroke="#555" stroke-width="0.6"/>
<circle cx="115.20" cy="277.80" r="8.1" fill="url(#beadg)" stroke="#cfcfd3" stroke-width="0.8"/>
<ellipse cx="113.00" cy="274.60" rx="3.4" ry="2.6" fill="#ffffff" opacity="0.35" transform="rotate(-30 113.00 274.60)"/>
<line x1="142.90" y1="278.10" x2="142.90" y2="283.60" stroke="#555" stroke-width="0.65"/>
<line x1="142.90" y1="301.40" x2="142.90" y2="306.10" stroke="#555" stroke-width="0.65"/>
<polygon points="142.90,283.60 135.19,288.05 135.19,296.95 142.90,301.40 150.61,296.95 150.61,288.05" fill="none" stroke="#555" stroke-width="0.65"/>
<line x1="136.73" y1="289.65" x2="136.73" y2="295.35" stroke="#555" stroke-width="0.6"/>
<line x1="143.52" y1="299.26" x2="148.45" y2="296.42" stroke="#555" stroke-width="0.6"/>
<line x1="148.45" y1="288.58" x2="143.52" y2="285.74" stroke="#555" stroke-width="0.6"/>
<circle cx="142.90" cy="271.10" r="8.1" fill="url(#beadg)" stroke="#cfcfd3" stroke-width="0.8"/>
<ellipse cx="140.70" cy="267.90" rx="3.4" ry="2.6" fill="#ffffff" opacity="0.35" transform="rotate(-30 140.70 267.90)"/>
<line x1="170.30" y1="284.80" x2="170.30" y2="290.30" stroke="#555" stroke-width="0.65"/>
<line x1="170.30" y1="308.10" x2="170.30" y2="312.80" stroke="#555" stroke-width="0.65"/>
<polygon points="170.30,290.30 162.59,294.75 162.59,303.65 170.30,308.10 178.01,303.65 178.01,294.75" fill="none" stroke="#555" stroke-width="0.65"/>
<line x1="164.13" y1="296.35" x2="164.13" y2="302.05" stroke="#555" stroke-width="0.6"/>
<line x1="170.92" y1="305.96" x2="175.85" y2="303.12" stroke="#555" stroke-width="0.6"/>
<line x1="175.85" y1="295.28" x2="170.92" y2="292.44" stroke="#555" stroke-width="0.6"/>
<circle cx="170.30" cy="277.80" r="8.1" fill="url(#beadg)" stroke="#cfcfd3" stroke-width="0.8"/>
<ellipse cx="168.10" cy="274.60" rx="3.4" ry="2.6" fill="#ffffff" opacity="0.35" transform="rotate(-30 168.10 274.60)"/>
<line x1="197.90" y1="279.30" x2="197.90" y2="284.80" stroke="#555" stroke-width="0.65"/>
<line x1="197.90" y1="302.60" x2="197.90" y2="307.30" stroke="#555" stroke-width="0.65"/>
<polygon points="197.90,284.80 190.19,289.25 190.19,298.15 197.90,302.60 205.61,298.15 205.61,289.25" fill="none" stroke="#555" stroke-width="0.65"/>
<line x1="191.73" y1="290.85" x2="191.73" y2="296.55" stroke="#555" stroke-width="0.6"/>
<line x1="198.52" y1="300.46" x2="203.45" y2="297.62" stroke="#555" stroke-width="0.6"/>
<line x1="203.45" y1="289.78" x2="198.52" y2="286.94" stroke="#555" stroke-width="0.6"/>
<circle cx="197.90" cy="272.30" r="8.1" fill="url(#beadg)" stroke="#cfcfd3" stroke-width="0.8"/>
<ellipse cx="195.70" cy="269.10" rx="3.4" ry="2.6" fill="#ffffff" opacity="0.35" transform="rotate(-30 195.70 269.10)"/>
<line x1="225.10" y1="284.20" x2="225.10" y2="289.70" stroke="#555" stroke-width="0.65"/>
<line x1="225.10" y1="307.50" x2="225.10" y2="312.20" stroke="#555" stroke-width="0.65"/>
<polygon points="225.10,289.70 217.39,294.15 217.39,303.05 225.10,307.50 232.81,303.05 232.81,294.15" fill="none" stroke="#555" stroke-width="0.65"/>
<line x1="218.93" y1="295.75" x2="218.93" y2="301.45" stroke="#555" stroke-width="0.6"/>
<line x1="225.72" y1="305.36" x2="230.65" y2="302.52" stroke="#555" stroke-width="0.6"/>
<line x1="230.65" y1="294.68" x2="225.72" y2="291.84" stroke="#555" stroke-width="0.6"/>
<circle cx="225.10" cy="277.20" r="8.1" fill="url(#beadg)" stroke="#cfcfd3" stroke-width="0.8"/>
<ellipse cx="222.90" cy="274.00" rx="3.4" ry="2.6" fill="#ffffff" opacity="0.35" transform="rotate(-30 222.90 274.00)"/>
<line x1="252.60" y1="278.50" x2="252.60" y2="284.00" stroke="#555" stroke-width="0.65"/>
<line x1="252.60" y1="301.80" x2="252.60" y2="306.50" stroke="#555" stroke-width="0.65"/>
<polygon points="252.60,284.00 244.89,288.45 244.89,297.35 252.60,301.80 260.31,297.35 260.31,288.45" fill="none" stroke="#555" stroke-width="0.65"/>
<line x1="246.43" y1="290.05" x2="246.43" y2="295.75" stroke="#555" stroke-width="0.6"/>
<line x1="253.22" y1="299.66" x2="258.15" y2="296.82" stroke="#555" stroke-width="0.6"/>
<line x1="258.15" y1="288.98" x2="253.22" y2="286.14" stroke="#555" stroke-width="0.6"/>
<circle cx="252.60" cy="271.50" r="8.1" fill="url(#beadg)" stroke="#cfcfd3" stroke-width="0.8"/>
<ellipse cx="250.40" cy="268.30" rx="3.4" ry="2.6" fill="#ffffff" opacity="0.35" transform="rotate(-30 250.40 268.30)"/>
<line x1="280.60" y1="284.00" x2="280.60" y2="289.50" stroke="#555" stroke-width="0.65"/>
<line x1="280.60" y1="307.30" x2="280.60" y2="312.00" stroke="#555" stroke-width="0.65"/>
<polygon points="280.60,289.50 272.89,293.95 272.89,302.85 280.60,307.30 288.31,302.85 288.31,293.95" fill="none" stroke="#555" stroke-width="0.65"/>
<line x1="274.43" y1="295.55" x2="274.43" y2="301.25" stroke="#555" stroke-width="0.6"/>
<line x1="281.22" y1="305.16" x2="286.15" y2="302.32" stroke="#555" stroke-width="0.6"/>
<line x1="286.15" y1="294.48" x2="281.22" y2="291.64" stroke="#555" stroke-width="0.6"/>
<circle cx="280.60" cy="277.00" r="8.1" fill="url(#beadg)" stroke="#cfcfd3" stroke-width="0.8"/>
<ellipse cx="278.40" cy="273.80" rx="3.4" ry="2.6" fill="#ffffff" opacity="0.35" transform="rotate(-30 278.40 273.80)"/>
<line x1="307.90" y1="281.00" x2="307.90" y2="286.50" stroke="#555" stroke-width="0.65"/>
<line x1="307.90" y1="304.30" x2="307.90" y2="309.00" stroke="#555" stroke-width="0.65"/>
<polygon points="307.90,286.50 300.19,290.95 300.19,299.85 307.90,304.30 315.61,299.85 315.61,290.95" fill="none" stroke="#555" stroke-width="0.65"/>
<line x1="301.73" y1="292.55" x2="301.73" y2="298.25" stroke="#555" stroke-width="0.6"/>
<line x1="308.52" y1="302.16" x2="313.45" y2="299.32" stroke="#555" stroke-width="0.6"/>
<line x1="313.45" y1="291.48" x2="308.52" y2="288.64" stroke="#555" stroke-width="0.6"/>
<circle cx="307.90" cy="274.00" r="8.1" fill="url(#beadg)" stroke="#cfcfd3" stroke-width="0.8"/>
<ellipse cx="305.70" cy="270.80" rx="3.4" ry="2.6" fill="#ffffff" opacity="0.35" transform="rotate(-30 305.70 270.80)"/>
<rect x="40.6" y="167.90" width="300.2" height="150.4" fill="none" stroke="#1c1c1c" stroke-width="1.5"/>
</g>
<polyline points="54.57,180.30 52.88,178.07 49.77,177.78 48.56,174.90 45.45,174.61 44.23,171.74 41.60,170.80" fill="none" stroke="#858585" stroke-width="0.65" stroke-linejoin="round"/>
<polyline points="102.91,178.41 105.47,179.07 107.90,177.33 110.51,178.79 112.94,177.06 115.54,178.52 117.97,176.79 120.57,178.25 123.01,176.51 125.61,177.97 128.04,176.24 130.60,176.90" fill="none" stroke="#858585" stroke-width="0.65" stroke-linejoin="round"/>
<circle cx="130.60" cy="176.90" r="2.40" fill="#5a2fd8" stroke="none" stroke-width="0"/>
<polyline points="68.40,214.05 66.51,215.84 66.74,218.78 64.15,220.20 64.37,223.14 61.79,224.55 62.01,227.49 59.42,228.91 59.65,231.85 57.06,233.26 57.28,236.20 55.40,238.00" fill="none" stroke="#858585" stroke-width="0.65" stroke-linejoin="round"/>
<circle cx="55.40" cy="238.00" r="2.40" fill="#5a2fd8" stroke="none" stroke-width="0"/>
<use href="#virus" x="78.90" y="190.20"/>
<g transform="translate(60.59 182.75) rotate(112.1) scale(0.95)" fill="#4d4aa6">
<path d="M -8 -3.2 C -8.2 0.6 -4.6 2.8 -2.4 3.5 L -2.2 6.3 C -1.2 7.1 1.2 7.1 2.2 6.3 L 2.4 3.5 C 4.6 2.8 8.2 0.6 8 -3.2 Z"/>
<circle cx="-5.9" cy="-3.6" r="2.3"/><circle cx="5.9" cy="-3.6" r="2.3"/>
<circle cx="-3.6" cy="-5.0" r="2.1"/><circle cx="3.6" cy="-5.0" r="2.1"/>
<circle cx="-1.6" cy="-4.0" r="1.5"/><circle cx="1.6" cy="-4.0" r="1.5"/>
<circle cx="-7.0" cy="-1.5" r="1.5"/><circle cx="7.0" cy="-1.5" r="1.5"/>
<ellipse cx="0" cy="-1.9" rx="2.7" ry="0.85" fill="#f4f4fb"/>
</g>
<g transform="translate(97.08 181.27) rotate(-116.2) scale(0.95)" fill="#4d4aa6">
<path d="M -8 -3.2 C -8.2 0.6 -4.6 2.8 -2.4 3.5 L -2.2 6.3 C -1.2 7.1 1.2 7.1 2.2 6.3 L 2.4 3.5 C 4.6 2.8 8.2 0.6 8 -3.2 Z"/>
<circle cx="-5.9" cy="-3.6" r="2.3"/><circle cx="5.9" cy="-3.6" r="2.3"/>
<circle cx="-3.6" cy="-5.0" r="2.1"/><circle cx="3.6" cy="-5.0" r="2.1"/>
<circle cx="-1.6" cy="-4.0" r="1.5"/><circle cx="1.6" cy="-4.0" r="1.5"/>
<circle cx="-7.0" cy="-1.5" r="1.5"/><circle cx="7.0" cy="-1.5" r="1.5"/>
<ellipse cx="0" cy="-1.9" rx="2.7" ry="0.85" fill="#f4f4fb"/>
</g>
<g transform="translate(71.02 208.10) rotate(23.8) scale(0.95)" fill="#4d4aa6">
<path d="M -8 -3.2 C -8.2 0.6 -4.6 2.8 -2.4 3.5 L -2.2 6.3 C -1.2 7.1 1.2 7.1 2.2 6.3 L 2.4 3.5 C 4.6 2.8 8.2 0.6 8 -3.2 Z"/>
<circle cx="-5.9" cy="-3.6" r="2.3"/><circle cx="5.9" cy="-3.6" r="2.3"/>
<circle cx="-3.6" cy="-5.0" r="2.1"/><circle cx="3.6" cy="-5.0" r="2.1"/>
<circle cx="-1.6" cy="-4.0" r="1.5"/><circle cx="1.6" cy="-4.0" r="1.5"/>
<circle cx="-7.0" cy="-1.5" r="1.5"/><circle cx="7.0" cy="-1.5" r="1.5"/>
<ellipse cx="0" cy="-1.9" rx="2.7" ry="0.85" fill="#f4f4fb"/>
</g>
<polyline points="162.82,191.66 160.55,190.37 157.78,191.42 155.67,189.34 152.90,190.39 150.80,188.31 148.03,189.36 145.92,187.28 143.15,188.33 141.04,186.25 138.27,187.30 136.00,186.00" fill="none" stroke="#858585" stroke-width="0.65" stroke-linejoin="round"/>
<circle cx="136.00" cy="186.00" r="2.40" fill="#5a2fd8" stroke="none" stroke-width="0"/>
<polyline points="211.88,188.22 214.42,187.49 215.64,184.77 218.63,184.71 219.85,181.98 222.83,181.92 224.05,179.20 227.03,179.14 228.25,176.41 231.24,176.35 232.46,173.63 235.00,172.90" fill="none" stroke="#858585" stroke-width="0.65" stroke-linejoin="round"/>
<circle cx="235.00" cy="172.90" r="2.40" fill="#5a2fd8" stroke="none" stroke-width="0"/>
<polyline points="195.33,222.64 195.43,225.25 197.79,227.05 197.14,229.94 199.49,231.73 198.84,234.62 201.19,236.42 200.54,239.31 202.90,241.10 202.25,243.99 204.60,245.78 204.70,248.40" fill="none" stroke="#858585" stroke-width="0.65" stroke-linejoin="round"/>
<circle cx="204.70" cy="248.40" r="2.40" fill="#5a2fd8" stroke="none" stroke-width="0"/>
<use href="#virus" x="187.40" y="197.70"/>
<g transform="translate(169.13 193.21) rotate(103.8) scale(0.95)" fill="#4d4aa6">
<path d="M -8 -3.2 C -8.2 0.6 -4.6 2.8 -2.4 3.5 L -2.2 6.3 C -1.2 7.1 1.2 7.1 2.2 6.3 L 2.4 3.5 C 4.6 2.8 8.2 0.6 8 -3.2 Z"/>
<circle cx="-5.9" cy="-3.6" r="2.3"/><circle cx="5.9" cy="-3.6" r="2.3"/>
<circle cx="-3.6" cy="-5.0" r="2.1"/><circle cx="3.6" cy="-5.0" r="2.1"/>
<circle cx="-1.6" cy="-4.0" r="1.5"/><circle cx="1.6" cy="-4.0" r="1.5"/>
<circle cx="-7.0" cy="-1.5" r="1.5"/><circle cx="7.0" cy="-1.5" r="1.5"/>
<ellipse cx="0" cy="-1.9" rx="2.7" ry="0.85" fill="#f4f4fb"/>
</g>
<g transform="translate(205.82 190.57) rotate(-111.2) scale(0.95)" fill="#4d4aa6">
<path d="M -8 -3.2 C -8.2 0.6 -4.6 2.8 -2.4 3.5 L -2.2 6.3 C -1.2 7.1 1.2 7.1 2.2 6.3 L 2.4 3.5 C 4.6 2.8 8.2 0.6 8 -3.2 Z"/>
<circle cx="-5.9" cy="-3.6" r="2.3"/><circle cx="5.9" cy="-3.6" r="2.3"/>
<circle cx="-3.6" cy="-5.0" r="2.1"/><circle cx="3.6" cy="-5.0" r="2.1"/>
<circle cx="-1.6" cy="-4.0" r="1.5"/><circle cx="1.6" cy="-4.0" r="1.5"/>
<circle cx="-7.0" cy="-1.5" r="1.5"/><circle cx="7.0" cy="-1.5" r="1.5"/>
<ellipse cx="0" cy="-1.9" rx="2.7" ry="0.85" fill="#f4f4fb"/>
</g>
<g transform="translate(193.36 216.44) rotate(-17.7) scale(0.95)" fill="#4d4aa6">
<path d="M -8 -3.2 C -8.2 0.6 -4.6 2.8 -2.4 3.5 L -2.2 6.3 C -1.2 7.1 1.2 7.1 2.2 6.3 L 2.4 3.5 C 4.6 2.8 8.2 0.6 8 -3.2 Z"/>
<circle cx="-5.9" cy="-3.6" r="2.3"/><circle cx="5.9" cy="-3.6" r="2.3"/>
<circle cx="-3.6" cy="-5.0" r="2.1"/><circle cx="3.6" cy="-5.0" r="2.1"/>
<circle cx="-1.6" cy="-4.0" r="1.5"/><circle cx="1.6" cy="-4.0" r="1.5"/>
<circle cx="-7.0" cy="-1.5" r="1.5"/><circle cx="7.0" cy="-1.5" r="1.5"/>
<ellipse cx="0" cy="-1.9" rx="2.7" ry="0.85" fill="#f4f4fb"/>
</g>
<polyline points="269.60,212.38 267.84,210.50 264.92,210.72 263.55,208.14 260.63,208.36 259.26,205.78 256.34,206.00 254.97,203.42 252.05,203.64 250.68,201.06 247.76,201.28 246.00,199.40" fill="none" stroke="#858585" stroke-width="0.65" stroke-linejoin="round"/>
<circle cx="246.00" cy="199.40" r="2.40" fill="#5a2fd8" stroke="none" stroke-width="0"/>
<polyline points="319.30,209.82 321.83,208.91 322.92,206.08 325.93,205.80 327.02,202.98 330.03,202.70 331.12,199.87 334.13,199.59 335.22,196.77 338.23,196.49 339.80,194.30" fill="none" stroke="#858585" stroke-width="0.65" stroke-linejoin="round"/>
<polyline points="300.24,244.66 299.73,247.30 301.61,249.67 300.31,252.40 302.19,254.77 300.88,257.50 302.76,259.87 301.46,262.59 303.33,264.96 302.03,267.69 303.91,270.06 303.40,272.70" fill="none" stroke="#858585" stroke-width="0.65" stroke-linejoin="round"/>
<circle cx="303.40" cy="272.70" r="2.40" fill="#5a2fd8" stroke="none" stroke-width="0"/>
<use href="#virus" x="295.50" y="219.80"/>
<g transform="translate(275.85 214.17) rotate(106.0) scale(0.95)" fill="#4d4aa6">
<path d="M -8 -3.2 C -8.2 0.6 -4.6 2.8 -2.4 3.5 L -2.2 6.3 C -1.2 7.1 1.2 7.1 2.2 6.3 L 2.4 3.5 C 4.6 2.8 8.2 0.6 8 -3.2 Z"/>
<circle cx="-5.9" cy="-3.6" r="2.3"/><circle cx="5.9" cy="-3.6" r="2.3"/>
<circle cx="-3.6" cy="-5.0" r="2.1"/><circle cx="3.6" cy="-5.0" r="2.1"/>
<circle cx="-1.6" cy="-4.0" r="1.5"/><circle cx="1.6" cy="-4.0" r="1.5"/>
<circle cx="-7.0" cy="-1.5" r="1.5"/><circle cx="7.0" cy="-1.5" r="1.5"/>
<ellipse cx="0" cy="-1.9" rx="2.7" ry="0.85" fill="#f4f4fb"/>
</g>
<g transform="translate(313.31 212.34) rotate(-112.7) scale(0.95)" fill="#4d4aa6">
<path d="M -8 -3.2 C -8.2 0.6 -4.6 2.8 -2.4 3.5 L -2.2 6.3 C -1.2 7.1 1.2 7.1 2.2 6.3 L 2.4 3.5 C 4.6 2.8 8.2 0.6 8 -3.2 Z"/>
<circle cx="-5.9" cy="-3.6" r="2.3"/><circle cx="5.9" cy="-3.6" r="2.3"/>
<circle cx="-3.6" cy="-5.0" r="2.1"/><circle cx="3.6" cy="-5.0" r="2.1"/>
<circle cx="-1.6" cy="-4.0" r="1.5"/><circle cx="1.6" cy="-4.0" r="1.5"/>
<circle cx="-7.0" cy="-1.5" r="1.5"/><circle cx="7.0" cy="-1.5" r="1.5"/>
<ellipse cx="0" cy="-1.9" rx="2.7" ry="0.85" fill="#f4f4fb"/>
</g>
<g transform="translate(299.02 238.28) rotate(-10.8) scale(0.95)" fill="#4d4aa6">
<path d="M -8 -3.2 C -8.2 0.6 -4.6 2.8 -2.4 3.5 L -2.2 6.3 C -1.2 7.1 1.2 7.1 2.2 6.3 L 2.4 3.5 C 4.6 2.8 8.2 0.6 8 -3.2 Z"/>
<circle cx="-5.9" cy="-3.6" r="2.3"/><circle cx="5.9" cy="-3.6" r="2.3"/>
<circle cx="-3.6" cy="-5.0" r="2.1"/><circle cx="3.6" cy="-5.0" r="2.1"/>
<circle cx="-1.6" cy="-4.0" r="1.5"/><circle cx="1.6" cy="-4.0" r="1.5"/>
<circle cx="-7.0" cy="-1.5" r="1.5"/><circle cx="7.0" cy="-1.5" r="1.5"/>
<ellipse cx="0" cy="-1.9" rx="2.7" ry="0.85" fill="#f4f4fb"/>
</g>
<path d="M104.00 197.20 L104.96 196.64 L105.90 196.17 L106.82 195.89 L107.69 195.83 L108.52 196.04 L109.31 196.49 L110.06 197.15 L110.79 197.94 L111.51 198.79 L112.24 199.59 L112.99 200.27 L113.77 200.74 L114.59 200.97 L115.46 200.94 L116.37 200.69 L117.31 200.26 L118.26 199.74 L119.22 199.20 L120.16 198.74 L121.08 198.44 L121.95 198.36 L122.79 198.53 L123.59 198.94 L124.35 199.55 L125.08 200.30 L125.81 201.12 L126.54 201.90 L127.29 202.58 L128.07 203.06 L128.89 203.32 L129.75 203.34 L130.65 203.13 L131.58 202.75 L132.53 202.26 L133.48 201.75 L134.42 201.31 L135.34 201.00 L136.22 200.90 L137.06 201.03 L137.86 201.40 L138.63 201.96 L139.37 202.67 L140.10 203.46 L140.84 204.22 L141.59 204.89 L142.37 205.39 L143.18 205.67 L144.04 205.73 L144.93 205.57 L145.85 205.23 L146.79 204.78 L147.74 204.30 L148.68 203.87 L149.60 203.56 L150.48 203.44 L151.31 203.62 L152.06 204.29 L152.81 204.98 L153.58 205.51 L154.40 205.80" fill="none" stroke="#6a7a9e" stroke-width="0.9"/>
<polygon points="155.19,205.93 151.62,206.64 152.06,204.08" fill="#6a7a9e"/>
<path d="M211.00 222.90 L211.97 222.34 L212.92 221.88 L213.85 221.60 L214.73 221.55 L215.57 221.75 L216.36 222.21 L217.12 222.87 L217.86 223.67 L218.58 224.52 L219.32 225.33 L220.07 226.00 L220.87 226.48 L221.70 226.71 L222.58 226.69 L223.49 226.44 L224.44 226.02 L225.40 225.49 L226.37 224.96 L227.32 224.51 L228.25 224.21 L229.13 224.14 L229.98 224.30 L230.78 224.72 L231.55 225.33 L232.29 226.09 L233.02 226.91 L233.76 227.69 L234.52 228.37 L235.31 228.86 L236.13 229.12 L237.00 229.14 L237.91 228.94 L238.85 228.56 L239.81 228.08 L240.77 227.57 L241.72 227.13 L242.65 226.83 L243.54 226.73 L244.39 226.86 L245.20 227.23 L245.97 227.80 L246.72 228.51 L247.46 229.30 L248.20 230.07 L248.96 230.74 L249.75 231.24 L250.57 231.53 L251.43 231.59 L252.34 231.43 L253.27 231.10 L254.22 230.65 L255.17 230.17 L256.12 229.74 L257.05 229.44 L257.94 229.32 L258.78 229.51 L259.54 230.18 L260.30 230.87 L261.08 231.41 L261.90 231.70" fill="none" stroke="#6a7a9e" stroke-width="0.9"/>
<polygon points="262.69,231.84 259.12,232.54 259.56,229.98" fill="#6a7a9e"/>
<text x="294.30" y="197.20" font-size="15.6" text-anchor="middle" fill="#0a0a0a" stroke="#0a0a0a" stroke-width="0.3" textLength="36.4" lengthAdjust="spacingAndGlyphs">Virus</text>
<text x="27.70" y="244.60" font-size="16" text-anchor="middle" fill="#0a0a0a" stroke="#0a0a0a" stroke-width="0.3" transform="rotate(-90 27.70 244.60)" textLength="74.4" lengthAdjust="spacingAndGlyphs">In-solution</text>
<line x1="440.00" y1="95.40" x2="440.00" y2="241.10" stroke="#111" stroke-width="1.75" />
<line x1="432.80" y1="240.20" x2="794.00" y2="240.20" stroke="#111" stroke-width="1.75" />
<line x1="432.80" y1="240.20" x2="440.00" y2="240.20" stroke="#111" stroke-width="1.6" />
<text x="431.00" y="245.60" font-size="15.5" text-anchor="end" fill="#0a0a0a" stroke="#0a0a0a" stroke-width="0.3">0</text>
<line x1="432.80" y1="211.40" x2="440.00" y2="211.40" stroke="#111" stroke-width="1.6" />
<text x="431.00" y="216.80" font-size="15.5" text-anchor="end" fill="#0a0a0a" stroke="#0a0a0a" stroke-width="0.3">25</text>
<line x1="432.80" y1="182.60" x2="440.00" y2="182.60" stroke="#111" stroke-width="1.6" />
<text x="431.00" y="188.00" font-size="15.5" text-anchor="end" fill="#0a0a0a" stroke="#0a0a0a" stroke-width="0.3">50</text>
<line x1="432.80" y1="153.80" x2="440.00" y2="153.80" stroke="#111" stroke-width="1.6" />
<text x="431.00" y="159.20" font-size="15.5" text-anchor="end" fill="#0a0a0a" stroke="#0a0a0a" stroke-width="0.3">75</text>
<line x1="432.80" y1="125.00" x2="440.00" y2="125.00" stroke="#111" stroke-width="1.6" />
<text x="431.00" y="130.40" font-size="15.5" text-anchor="end" fill="#0a0a0a" stroke="#0a0a0a" stroke-width="0.3">100</text>
<line x1="432.80" y1="96.20" x2="440.00" y2="96.20" stroke="#111" stroke-width="1.6" />
<text x="431.00" y="101.60" font-size="15.5" text-anchor="end" fill="#0a0a0a" stroke="#0a0a0a" stroke-width="0.3">125</text>
<line x1="473.00" y1="240.20" x2="473.00" y2="246.80" stroke="#111" stroke-width="1.6" />
<line x1="523.50" y1="240.20" x2="523.50" y2="246.80" stroke="#111" stroke-width="1.6" />
<line x1="575.00" y1="240.20" x2="575.00" y2="246.80" stroke="#111" stroke-width="1.6" />
<line x1="659.00" y1="240.20" x2="659.00" y2="246.80" stroke="#111" stroke-width="1.6" />
<line x1="710.00" y1="240.20" x2="710.00" y2="246.80" stroke="#111" stroke-width="1.6" />
<line x1="760.50" y1="240.20" x2="760.50" y2="246.80" stroke="#111" stroke-width="1.6" />
<text x="387.00" y="167.80" font-size="15.5" text-anchor="middle" fill="#0a0a0a" stroke="#0a0a0a" stroke-width="0.3" transform="rotate(-90 387.00 167.80)" textLength="113.6" lengthAdjust="spacingAndGlyphs">Virus (copies/ml)</text>
<rect x="457.00" y="238.40" width="33.00" height="1.80" fill="#2a4bc6" stroke="#111" stroke-width="1.0"/>
<rect x="508.60" y="157.90" width="31.80" height="82.30" fill="#3b80da" stroke="#111" stroke-width="1.75"/>
<rect x="559.00" y="233.00" width="32.00" height="7.20" fill="#62c6dc" stroke="#111" stroke-width="1.75"/>
<rect x="643.00" y="237.80" width="33.00" height="2.40" fill="#2a4bc6" stroke="#111" stroke-width="1.0"/>
<rect x="693.90" y="197.10" width="32.10" height="43.10" fill="#3b80da" stroke="#111" stroke-width="1.75"/>
<rect x="745.00" y="237.60" width="32.00" height="2.60" fill="#62c6dc" stroke="#111" stroke-width="1.4"/>
<line x1="524.50" y1="119.00" x2="524.50" y2="194.40" stroke="#111" stroke-width="1.4" />
<line x1="515.90" y1="119.00" x2="533.10" y2="119.00" stroke="#111" stroke-width="1.4" />
<line x1="515.90" y1="194.40" x2="533.10" y2="194.40" stroke="#111" stroke-width="1.4" />
<line x1="575.00" y1="221.70" x2="575.00" y2="240.00" stroke="#111" stroke-width="1.4" />
<line x1="566.40" y1="221.70" x2="583.60" y2="221.70" stroke="#111" stroke-width="1.4" />
<line x1="710.00" y1="190.20" x2="710.00" y2="198.40" stroke="#111" stroke-width="1.3" />
<line x1="702.00" y1="190.20" x2="718.00" y2="190.20" stroke="#111" stroke-width="1.3" />
<line x1="702.00" y1="198.40" x2="718.00" y2="198.40" stroke="#111" stroke-width="1.3" />
<line x1="663.50" y1="233.80" x2="663.50" y2="240.00" stroke="#111" stroke-width="1.2" />
<line x1="659.00" y1="233.80" x2="668.00" y2="233.80" stroke="#111" stroke-width="1.2" />
<line x1="764.70" y1="233.80" x2="764.70" y2="240.00" stroke="#111" stroke-width="1.2" />
<line x1="760.20" y1="233.80" x2="769.20" y2="233.80" stroke="#111" stroke-width="1.2" />
<circle cx="460.80" cy="240.10" r="3.65" fill="#2a4bc6" stroke="#0b1030" stroke-width="1.4"/>
<circle cx="469.80" cy="235.80" r="3.65" fill="#2a4bc6" stroke="#0b1030" stroke-width="1.4"/>
<circle cx="478.10" cy="240.50" r="3.65" fill="#2a4bc6" stroke="#0b1030" stroke-width="1.4"/>
<circle cx="486.60" cy="238.10" r="3.65" fill="#2a4bc6" stroke="#0b1030" stroke-width="1.4"/>
<rect x="520.50" y="97.40" width="8.00" height="8.00" fill="#3b80da" stroke="#0b1030" stroke-width="1.4"/>
<rect x="508.00" y="162.60" width="8.00" height="8.00" fill="#3b80da" stroke="#0b1030" stroke-width="1.4"/>
<rect x="533.00" y="167.50" width="8.00" height="8.00" fill="#3b80da" stroke="#0b1030" stroke-width="1.4"/>
<rect x="520.50" y="182.70" width="8.00" height="8.00" fill="#3b80da" stroke="#0b1030" stroke-width="1.4"/>
<polygon points="574.90,214.45 578.50,221.85 571.30,221.85" fill="#62c6dc" stroke="#0b1030" stroke-width="1.3" stroke-linejoin="miter"/>
<polygon points="574.90,229.65 578.50,237.05 571.30,237.05" fill="#62c6dc" stroke="#0b1030" stroke-width="1.3" stroke-linejoin="miter"/>
<polygon points="562.60,235.25 566.20,242.65 559.00,242.65" fill="#62c6dc" stroke="#0b1030" stroke-width="1.3" stroke-linejoin="miter"/>
<polygon points="586.90,235.25 590.50,242.65 583.30,242.65" fill="#62c6dc" stroke="#0b1030" stroke-width="1.3" stroke-linejoin="miter"/>
<circle cx="647.30" cy="240.00" r="3.65" fill="#2a4bc6" stroke="#0b1030" stroke-width="1.4"/>
<circle cx="655.30" cy="232.70" r="3.65" fill="#2a4bc6" stroke="#0b1030" stroke-width="1.4"/>
<circle cx="663.40" cy="240.00" r="3.65" fill="#2a4bc6" stroke="#0b1030" stroke-width="1.4"/>
<circle cx="672.10" cy="238.00" r="3.65" fill="#2a4bc6" stroke="#0b1030" stroke-width="1.4"/>
<rect x="693.60" y="196.60" width="8.00" height="8.00" fill="#3b80da" stroke="#0b1030" stroke-width="1.4"/>
<rect x="705.80" y="188.10" width="8.00" height="8.00" fill="#3b80da" stroke="#0b1030" stroke-width="1.4"/>
<rect x="718.60" y="185.40" width="8.00" height="8.00" fill="#3b80da" stroke="#0b1030" stroke-width="1.4"/>
<rect x="718.60" y="193.90" width="8.00" height="8.00" fill="#3b80da" stroke="#0b1030" stroke-width="1.4"/>
<polygon points="747.90,236.85 751.50,244.25 744.30,244.25" fill="#62c6dc" stroke="#0b1030" stroke-width="1.3" stroke-linejoin="miter"/>
<polygon points="755.90,229.85 759.50,237.25 752.30,237.25" fill="#62c6dc" stroke="#0b1030" stroke-width="1.3" stroke-linejoin="miter"/>
<polygon points="764.70,235.25 768.30,242.65 761.10,242.65" fill="#62c6dc" stroke="#0b1030" stroke-width="1.3" stroke-linejoin="miter"/>
<polygon points="773.20,234.65 776.80,242.05 769.60,242.05" fill="#62c6dc" stroke="#0b1030" stroke-width="1.3" stroke-linejoin="miter"/>
<text x="473.30" y="263.00" font-size="15.5" text-anchor="middle" fill="#0a0a0a" stroke="#0a0a0a" stroke-width="0.3">CTRL</text>
<text x="523.70" y="263.00" font-size="15.5" text-anchor="middle" fill="#0a0a0a" stroke="#0a0a0a" stroke-width="0.3">ACE2</text>
<text x="574.60" y="263.00" font-size="15.5" text-anchor="middle" fill="#0a0a0a" stroke="#0a0a0a" stroke-width="0.3">α-Spike</text>
<text x="659.50" y="263.00" font-size="15.5" text-anchor="middle" fill="#0a0a0a" stroke="#0a0a0a" stroke-width="0.3">CTRL</text>
<text x="710.00" y="263.00" font-size="15.5" text-anchor="middle" fill="#0a0a0a" stroke="#0a0a0a" stroke-width="0.3">ACE2</text>
<text x="761.00" y="263.00" font-size="15.5" text-anchor="middle" fill="#0a0a0a" stroke="#0a0a0a" stroke-width="0.3">α-Spike</text>
<text x="523.00" y="290.20" font-size="15.5" text-anchor="middle" fill="#0a0a0a" stroke="#0a0a0a" stroke-width="0.3">On-chip</text>
<text x="709.00" y="290.20" font-size="15.5" text-anchor="middle" fill="#0a0a0a" stroke="#0a0a0a" stroke-width="0.3">In-solution</text>
<polyline points="471.20,291.20 471.20,298.60 577.90,298.60 577.90,291.20" fill="none" stroke="#111" stroke-width="1.2" />
<polyline points="657.00,291.20 657.00,298.60 763.40,298.60 763.40,291.20" fill="none" stroke="#111" stroke-width="1.2" />
<polyline points="474.00,227.80 474.00,84.40 521.40,84.40 521.40,92.70" fill="none" stroke="#111" stroke-width="1.2" stroke-linejoin="miter"/>
<polyline points="527.20,73.20 527.20,63.20 574.90,63.20 574.90,209.50" fill="none" stroke="#111" stroke-width="1.2" stroke-linejoin="miter"/>
<polyline points="524.40,41.40 524.40,19.60 710.00,19.60 710.00,32.00" fill="none" stroke="#111" stroke-width="1.2" stroke-linejoin="miter"/>
<polyline points="575.30,53.90 575.30,43.90 760.90,43.90 760.90,65.70" fill="none" stroke="#111" stroke-width="1.2" stroke-linejoin="miter"/>
<polyline points="659.20,223.70 659.20,84.40 707.00,84.40 707.00,181.80" fill="none" stroke="#111" stroke-width="1.2" stroke-linejoin="miter"/>
<polyline points="712.70,181.80 712.70,84.40 760.50,84.40 760.50,225.20" fill="none" stroke="#111" stroke-width="1.2" stroke-linejoin="miter"/>
<text x="497.70" y="76.60" font-size="11.3" text-anchor="middle" fill="#0a0a0a" stroke="#0a0a0a" stroke-width="0.12">&lt;0.0001</text>
<text x="551.40" y="54.80" font-size="11.3" text-anchor="middle" fill="#0a0a0a" stroke="#0a0a0a" stroke-width="0.12">&lt;0.0001</text>
<text x="617.10" y="11.80" font-size="11.3" text-anchor="middle" fill="#0a0a0a" stroke="#0a0a0a" stroke-width="0.12">0.0033</text>
<text x="668.00" y="35.10" font-size="11.3" text-anchor="middle" fill="#0a0a0a" stroke="#0a0a0a" stroke-width="0.12">0.8596</text>
<text x="683.20" y="76.80" font-size="11.3" text-anchor="middle" fill="#0a0a0a" stroke="#0a0a0a" stroke-width="0.12">0.0044</text>
<text x="736.60" y="76.80" font-size="11.3" text-anchor="middle" fill="#0a0a0a" stroke="#0a0a0a" stroke-width="0.12">0.0049</text>
<line x1="57.20" y1="367.40" x2="57.20" y2="513.00" stroke="#111" stroke-width="2.0" />
<line x1="53.30" y1="512.00" x2="232.60" y2="512.00" stroke="#111" stroke-width="2.0" />
<line x1="53.30" y1="512.00" x2="57.20" y2="512.00" stroke="#111" stroke-width="1.7" />
<text x="49.40" y="517.20" font-size="15.5" text-anchor="end" fill="#0a0a0a" stroke="#0a0a0a" stroke-width="0.3">0</text>
<line x1="53.30" y1="476.00" x2="57.20" y2="476.00" stroke="#111" stroke-width="1.7" />
<text x="49.40" y="481.20" font-size="15.5" text-anchor="end" fill="#0a0a0a" stroke="#0a0a0a" stroke-width="0.3">5</text>
<line x1="53.30" y1="440.00" x2="57.20" y2="440.00" stroke="#111" stroke-width="1.7" />
<text x="49.40" y="445.20" font-size="15.5" text-anchor="end" fill="#0a0a0a" stroke="#0a0a0a" stroke-width="0.3">10</text>
<line x1="53.30" y1="404.00" x2="57.20" y2="404.00" stroke="#111" stroke-width="1.7" />
<text x="49.40" y="409.20" font-size="15.5" text-anchor="end" fill="#0a0a0a" stroke="#0a0a0a" stroke-width="0.3">15</text>
<line x1="53.30" y1="368.00" x2="57.20" y2="368.00" stroke="#111" stroke-width="1.7" />
<text x="49.40" y="373.20" font-size="15.5" text-anchor="end" fill="#0a0a0a" stroke="#0a0a0a" stroke-width="0.3">20</text>
<line x1="107.40" y1="512.00" x2="107.40" y2="516.20" stroke="#111" stroke-width="1.7" />
<line x1="182.60" y1="512.00" x2="182.60" y2="516.20" stroke="#111" stroke-width="1.7" />
<text x="22.00" y="437.50" font-size="15.5" text-anchor="middle" fill="#0a0a0a" stroke="#0a0a0a" stroke-width="0.3" transform="rotate(-90 22.00 437.50)" textLength="113.6" lengthAdjust="spacingAndGlyphs">Virus (copies/ml)</text>
<rect x="82.20" y="460.20" width="50.10" height="51.80" fill="#2b4dc6" stroke="none" stroke-width="0"/>
<rect x="157.50" y="426.00" width="50.20" height="86.00" fill="#3c85de" stroke="none" stroke-width="0"/>
<line x1="107.40" y1="451.70" x2="107.40" y2="472.20" stroke="#111" stroke-width="1.4" />
<line x1="94.60" y1="451.70" x2="120.20" y2="451.70" stroke="#111" stroke-width="1.4" />
<line x1="94.60" y1="472.20" x2="120.20" y2="472.20" stroke="#111" stroke-width="1.4" />
<line x1="182.70" y1="417.80" x2="182.70" y2="434.10" stroke="#111" stroke-width="1.4" />
<line x1="170.20" y1="417.80" x2="195.20" y2="417.80" stroke="#111" stroke-width="1.4" />
<line x1="170.20" y1="434.10" x2="195.20" y2="434.10" stroke="#111" stroke-width="1.4" />
<rect x="101.95" y="382.25" width="10.70" height="10.70" fill="#2b4dc6" stroke="#070a18" stroke-width="1.6"/>
<rect x="108.65" y="428.95" width="10.70" height="10.70" fill="#2b4dc6" stroke="#070a18" stroke-width="1.6"/>
<rect x="95.65" y="435.45" width="10.70" height="10.70" fill="#2b4dc6" stroke="#070a18" stroke-width="1.6"/>
<rect x="82.85" y="456.85" width="10.70" height="10.70" fill="#2b4dc6" stroke="#070a18" stroke-width="1.6"/>
<rect x="95.65" y="459.65" width="10.70" height="10.70" fill="#2b4dc6" stroke="#070a18" stroke-width="1.6"/>
<rect x="108.65" y="454.65" width="10.70" height="10.70" fill="#2b4dc6" stroke="#070a18" stroke-width="1.6"/>
<rect x="121.25" y="451.85" width="10.70" height="10.70" fill="#2b4dc6" stroke="#070a18" stroke-width="1.6"/>
<rect x="121.25" y="476.25" width="10.70" height="10.70" fill="#2b4dc6" stroke="#070a18" stroke-width="1.6"/>
<rect x="95.65" y="485.85" width="10.70" height="10.70" fill="#2b4dc6" stroke="#070a18" stroke-width="1.6"/>
<rect x="108.65" y="486.35" width="10.70" height="10.70" fill="#2b4dc6" stroke="#070a18" stroke-width="1.6"/>
<rect x="101.95" y="506.35" width="10.70" height="10.70" fill="#2b4dc6" stroke="#070a18" stroke-width="1.6"/>
<polygon points="176.00,400.55 181.40,390.05 170.60,390.05" fill="#3c85de" stroke="#070a18" stroke-width="1.5" stroke-linejoin="miter"/>
<polygon points="189.00,400.55 194.40,390.05 183.60,390.05" fill="#3c85de" stroke="#070a18" stroke-width="1.5" stroke-linejoin="miter"/>
<polygon points="202.00,400.55 207.40,390.05 196.60,390.05" fill="#3c85de" stroke="#070a18" stroke-width="1.5" stroke-linejoin="miter"/>
<polygon points="176.00,411.35 181.40,400.85 170.60,400.85" fill="#3c85de" stroke="#070a18" stroke-width="1.5" stroke-linejoin="miter"/>
<polygon points="189.00,411.35 194.40,400.85 183.60,400.85" fill="#3c85de" stroke="#070a18" stroke-width="1.5" stroke-linejoin="miter"/>
<polygon points="164.00,420.35 169.40,409.85 158.60,409.85" fill="#3c85de" stroke="#070a18" stroke-width="1.5" stroke-linejoin="miter"/>
<polygon points="189.00,420.35 194.40,409.85 183.60,409.85" fill="#3c85de" stroke="#070a18" stroke-width="1.5" stroke-linejoin="miter"/>
<polygon points="176.00,430.05 181.40,419.55 170.60,419.55" fill="#3c85de" stroke="#070a18" stroke-width="1.5" stroke-linejoin="miter"/>
<polygon points="170.20,455.65 175.60,445.15 164.80,445.15" fill="#3c85de" stroke="#070a18" stroke-width="1.5" stroke-linejoin="miter"/>
<polygon points="182.70,461.95 188.10,451.45 177.30,451.45" fill="#3c85de" stroke="#070a18" stroke-width="1.5" stroke-linejoin="miter"/>
<polygon points="195.70,461.35 201.10,450.85 190.30,450.85" fill="#3c85de" stroke="#070a18" stroke-width="1.5" stroke-linejoin="miter"/>
<polygon points="182.50,490.75 187.90,480.25 177.10,480.25" fill="#3c85de" stroke="#070a18" stroke-width="1.5" stroke-linejoin="miter"/>
<polyline points="107.30,379.00 107.30,370.10 182.60,370.10 182.60,387.20" fill="none" stroke="#111" stroke-width="1.2" stroke-linejoin="miter"/>
<text x="144.90" y="362.60" font-size="11.3" text-anchor="middle" fill="#0a0a0a" stroke="#0a0a0a" stroke-width="0.12">0.0123</text>
<text x="107.00" y="533.00" font-size="15.5" text-anchor="middle" fill="#0a0a0a" stroke="#0a0a0a" stroke-width="0.3">WT</text>
<text x="182.60" y="533.00" font-size="15.5" text-anchor="middle" fill="#0a0a0a" stroke="#0a0a0a" stroke-width="0.3">Eng</text>
<text x="143.00" y="559.20" font-size="15.5" text-anchor="middle" fill="#0a0a0a" stroke="#0a0a0a" stroke-width="0.3">ACE2 type</text>
<polyline points="71.00,563.00 71.00,566.90 219.80,566.90 219.80,563.00" fill="none" stroke="#111" stroke-width="1.2" />
<line x1="324.50" y1="367.30" x2="324.50" y2="513.60" stroke="#111" stroke-width="2.0" />
<line x1="320.60" y1="512.60" x2="500.30" y2="512.60" stroke="#111" stroke-width="2.0" />
<line x1="320.60" y1="512.60" x2="324.50" y2="512.60" stroke="#111" stroke-width="1.7" />
<text x="317.40" y="518.10" font-size="15.5" text-anchor="end" fill="#0a0a0a" stroke="#0a0a0a" stroke-width="0.3">0</text>
<line x1="320.60" y1="464.50" x2="324.50" y2="464.50" stroke="#111" stroke-width="1.7" />
<text x="317.40" y="470.00" font-size="15.5" text-anchor="end" fill="#0a0a0a" stroke="#0a0a0a" stroke-width="0.3">10</text>
<line x1="320.60" y1="416.40" x2="324.50" y2="416.40" stroke="#111" stroke-width="1.7" />
<text x="317.40" y="421.90" font-size="15.5" text-anchor="end" fill="#0a0a0a" stroke="#0a0a0a" stroke-width="0.3">20</text>
<line x1="320.60" y1="368.30" x2="324.50" y2="368.30" stroke="#111" stroke-width="1.7" />
<text x="317.40" y="373.80" font-size="15.5" text-anchor="end" fill="#0a0a0a" stroke="#0a0a0a" stroke-width="0.3">30</text>
<line x1="374.80" y1="512.60" x2="374.80" y2="516.60" stroke="#111" stroke-width="1.7" />
<line x1="450.00" y1="512.60" x2="450.00" y2="516.60" stroke="#111" stroke-width="1.7" />
<text x="288.90" y="437.80" font-size="15.5" text-anchor="middle" fill="#0a0a0a" stroke="#0a0a0a" stroke-width="0.3" transform="rotate(-90 288.90 437.80)" textLength="113.6" lengthAdjust="spacingAndGlyphs">Virus (copies/ml)</text>
<rect x="349.70" y="451.60" width="50.10" height="60.80" fill="#2b4dc6" stroke="none" stroke-width="0"/>
<rect x="425.20" y="459.80" width="49.90" height="52.80" fill="#3c85de" stroke="none" stroke-width="0"/>
<line x1="374.80" y1="433.50" x2="374.80" y2="468.30" stroke="#111" stroke-width="1.5" />
<line x1="362.00" y1="433.50" x2="387.60" y2="433.50" stroke="#111" stroke-width="1.5" />
<line x1="362.00" y1="468.30" x2="387.60" y2="468.30" stroke="#111" stroke-width="1.5" />
<line x1="450.10" y1="444.20" x2="450.10" y2="474.00" stroke="#111" stroke-width="1.5" />
<line x1="437.30" y1="444.20" x2="462.90" y2="444.20" stroke="#111" stroke-width="1.5" />
<line x1="437.30" y1="474.00" x2="462.90" y2="474.00" stroke="#111" stroke-width="1.5" />
<rect x="369.45" y="384.85" width="10.70" height="10.70" fill="#2b4dc6" stroke="#070a18" stroke-width="1.6"/>
<rect x="357.35" y="448.65" width="10.70" height="10.70" fill="#2b4dc6" stroke="#070a18" stroke-width="1.6"/>
<rect x="381.15" y="442.45" width="10.70" height="10.70" fill="#2b4dc6" stroke="#070a18" stroke-width="1.6"/>
<rect x="369.45" y="466.65" width="10.70" height="10.70" fill="#2b4dc6" stroke="#070a18" stroke-width="1.6"/>
<rect x="369.45" y="486.35" width="10.70" height="10.70" fill="#2b4dc6" stroke="#070a18" stroke-width="1.6"/>
<polygon points="450.00,431.65 455.40,421.15 444.60,421.15" fill="#3c85de" stroke="#070a18" stroke-width="1.5" stroke-linejoin="miter"/>
<polygon points="450.00,442.65 455.40,432.15 444.60,432.15" fill="#3c85de" stroke="#070a18" stroke-width="1.5" stroke-linejoin="miter"/>
<polygon points="438.80,460.95 444.20,450.45 433.40,450.45" fill="#3c85de" stroke="#070a18" stroke-width="1.5" stroke-linejoin="miter"/>
<polygon points="461.60,468.15 467.00,457.65 456.20,457.65" fill="#3c85de" stroke="#070a18" stroke-width="1.5" stroke-linejoin="miter"/>
<polygon points="450.00,517.95 455.40,507.45 444.60,507.45" fill="#3c85de" stroke="#070a18" stroke-width="1.5" stroke-linejoin="miter"/>
<polyline points="374.80,382.10 374.80,373.10 450.00,373.10 450.00,417.70" fill="none" stroke="#111" stroke-width="1.2" stroke-linejoin="miter"/>
<text x="411.60" y="365.00" font-size="11.3" text-anchor="middle" fill="#0a0a0a" stroke="#0a0a0a" stroke-width="0.12">0.7271</text>
<text x="374.80" y="533.00" font-size="15.5" text-anchor="middle" fill="#0a0a0a" stroke="#0a0a0a" stroke-width="0.3">25 µg/ml</text>
<text x="450.40" y="533.00" font-size="15.5" text-anchor="middle" fill="#0a0a0a" stroke="#0a0a0a" stroke-width="0.3">100 µg/ml</text>
<text x="411.00" y="559.30" font-size="15.5" text-anchor="middle" fill="#0a0a0a" stroke="#0a0a0a" stroke-width="0.3">ACE2 concentration</text>
<polyline points="338.20,563.60 338.20,567.30 487.00,567.30 487.00,563.60" fill="none" stroke="#111" stroke-width="1.2" />
<line x1="617.70" y1="367.30" x2="617.70" y2="513.20" stroke="#111" stroke-width="2.0" />
<line x1="613.80" y1="512.20" x2="794.00" y2="512.20" stroke="#111" stroke-width="2.0" />
<line x1="613.80" y1="512.20" x2="617.70" y2="512.20" stroke="#111" stroke-width="1.7" />
<text x="609.50" y="517.70" font-size="15.5" text-anchor="end" fill="#0a0a0a" stroke="#0a0a0a" stroke-width="0.3">0</text>
<line x1="613.80" y1="483.40" x2="617.70" y2="483.40" stroke="#111" stroke-width="1.7" />
<text x="609.50" y="488.90" font-size="15.5" text-anchor="end" fill="#0a0a0a" stroke="#0a0a0a" stroke-width="0.3">200</text>
<line x1="613.80" y1="454.60" x2="617.70" y2="454.60" stroke="#111" stroke-width="1.7" />
<text x="609.50" y="460.10" font-size="15.5" text-anchor="end" fill="#0a0a0a" stroke="#0a0a0a" stroke-width="0.3">400</text>
<line x1="613.80" y1="425.80" x2="617.70" y2="425.80" stroke="#111" stroke-width="1.7" />
<text x="609.50" y="431.30" font-size="15.5" text-anchor="end" fill="#0a0a0a" stroke="#0a0a0a" stroke-width="0.3">600</text>
<line x1="613.80" y1="397.00" x2="617.70" y2="397.00" stroke="#111" stroke-width="1.7" />
<text x="609.50" y="402.50" font-size="15.5" text-anchor="end" fill="#0a0a0a" stroke="#0a0a0a" stroke-width="0.3">800</text>
<line x1="613.80" y1="368.20" x2="617.70" y2="368.20" stroke="#111" stroke-width="1.7" />
<text x="609.50" y="373.70" font-size="15.5" text-anchor="end" fill="#0a0a0a" stroke="#0a0a0a" stroke-width="0.3">1000</text>
<line x1="668.60" y1="512.20" x2="668.60" y2="516.30" stroke="#111" stroke-width="1.7" />
<line x1="743.90" y1="512.20" x2="743.90" y2="516.30" stroke="#111" stroke-width="1.7" />
<text x="567.00" y="437.80" font-size="15.5" text-anchor="middle" fill="#0a0a0a" stroke="#0a0a0a" stroke-width="0.3" transform="rotate(-90 567.00 437.80)" textLength="113.6" lengthAdjust="spacingAndGlyphs">Virus (copies/ml)</text>
<line x1="668.40" y1="392.80" x2="743.90" y2="436.20" stroke="#111" stroke-width="1.35" />
<line x1="668.40" y1="456.20" x2="743.90" y2="446.60" stroke="#111" stroke-width="1.35" />
<line x1="668.40" y1="464.00" x2="743.90" y2="470.90" stroke="#111" stroke-width="1.35" />
<line x1="668.40" y1="499.70" x2="743.90" y2="503.40" stroke="#111" stroke-width="1.35" />
<circle cx="668.40" cy="392.80" r="6.50" fill="#ee1016" stroke="#1a0505" stroke-width="1.4"/>
<circle cx="668.40" cy="456.20" r="6.50" fill="#ee1016" stroke="#1a0505" stroke-width="1.4"/>
<circle cx="668.40" cy="464.00" r="6.50" fill="#ee1016" stroke="#1a0505" stroke-width="1.4"/>
<circle cx="668.40" cy="499.70" r="6.50" fill="#ee1016" stroke="#1a0505" stroke-width="1.4"/>
<polygon points="743.90,429.80 750.30,436.20 743.90,442.60 737.50,436.20" fill="#f9ca66" stroke="#111" stroke-width="1.4"/>
<polygon points="743.90,440.20 750.30,446.60 743.90,453.00 737.50,446.60" fill="#f9ca66" stroke="#111" stroke-width="1.4"/>
<polygon points="743.90,464.50 750.30,470.90 743.90,477.30 737.50,470.90" fill="#f9ca66" stroke="#111" stroke-width="1.4"/>
<polygon points="743.90,497.00 750.30,503.40 743.90,509.80 737.50,503.40" fill="#f9ca66" stroke="#111" stroke-width="1.4"/>
<polyline points="668.40,384.80 668.40,375.90 743.90,375.90 743.90,429.20" fill="none" stroke="#111" stroke-width="1.2" stroke-linejoin="miter"/>
<text x="706.20" y="368.10" font-size="11.3" text-anchor="middle" fill="#0a0a0a" stroke="#0a0a0a" stroke-width="0.12">0.4068</text>
<text x="668.30" y="533.00" font-size="15.5" text-anchor="middle" fill="#0a0a0a" stroke="#0a0a0a" stroke-width="0.3">Blood</text>
<text x="743.90" y="533.00" font-size="15.5" text-anchor="middle" fill="#0a0a0a" stroke="#0a0a0a" stroke-width="0.3">Plasma</text>
<text x="706.30" y="559.30" font-size="15.5" text-anchor="middle" fill="#0a0a0a" stroke="#0a0a0a" stroke-width="0.3">Test fluid</text>
<polyline points="631.80,563.20 631.80,566.90 780.50,566.90 780.50,563.20" fill="none" stroke="#111" stroke-width="1.2" />
</svg>
</body></html>
